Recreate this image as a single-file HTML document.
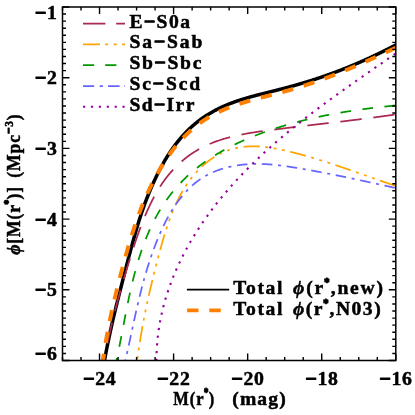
<!DOCTYPE html>
<html><head><meta charset="utf-8"><title>Luminosity function by morphological type</title>
<style>
html,body{margin:0;padding:0;background:#fff;}
svg{display:block;}
text{font-family:"Liberation Serif",serif;font-weight:bold;fill:#000;stroke:#000;stroke-width:0.5px;stroke-linejoin:round;}
.mn{stroke-width:1.3px;}
.it{font-style:italic;}
</style></head><body>
<svg width="415" height="415" viewBox="0 0 415 415">
<rect width="415" height="415" fill="#fff"/>
<defs><clipPath id="clip"><rect x="62.5" y="7" width="333.3" height="353.5"/></clipPath></defs>

<g clip-path="url(#clip)" fill="none" stroke-linecap="butt" stroke-linejoin="round">
<path d="M102.29,371.98 L102.72,369.73 L103.14,367.47 L103.57,365.22 L103.99,362.97 L104.42,360.72 L104.85,358.47 L105.28,356.22 L105.72,353.96 L106.16,351.70 L106.59,349.47 L107.02,347.27 L107.45,345.12 L107.88,343.01 L108.31,340.92 L108.74,338.87 L109.16,336.85 L109.59,334.85 L110.02,332.89 L110.44,330.94 L110.87,329.02 L111.29,327.13 L111.71,325.25 L112.13,323.39 L112.56,321.55 L112.98,319.73 L113.40,317.93 L113.82,316.14 L114.24,314.37 L114.66,312.61 L115.08,310.87 L115.50,309.14 L115.91,307.42 L116.33,305.71 L116.75,304.02 L117.17,302.33 L117.58,300.66 L118.00,298.99 L118.42,297.34 L118.83,295.69 L119.25,294.05 L119.67,292.41 L120.08,290.78 L120.50,289.15 L120.91,287.52 L121.33,285.90 L121.74,284.28 L122.15,282.66 L122.57,281.04 L122.98,279.42 L123.40,277.81 L123.81,276.20 L124.22,274.59 L124.64,272.99 L125.05,271.39 L125.46,269.79 L125.87,268.19 L126.29,266.60 L126.70,265.01 L127.11,263.43 L127.52,261.85 L127.93,260.28 L128.34,258.71 L128.75,257.14 L129.17,255.59 L129.58,254.03 L129.99,252.49 L130.40,250.95 L130.81,249.41 L131.22,247.89 L131.63,246.37 L132.04,244.86 L132.45,243.36 L132.86,241.87 L133.27,240.38 L133.68,238.91 L134.09,237.45 L134.50,236.00 L134.91,234.56 L135.32,233.14 L135.73,231.72 L136.14,230.32 L136.55,228.93 L136.96,227.55 L137.37,226.19 L137.78,224.84 L138.19,223.50 L138.60,222.17 L139.01,220.85 L139.42,219.55 L139.83,218.27 L140.24,216.99 L140.65,215.73 L141.06,214.49 L141.47,213.25 L141.88,212.03 L142.29,210.83 L142.70,209.64 L143.11,208.46 L143.53,207.29 L143.94,206.13 L144.35,204.99 L144.76,203.86 L145.17,202.75 L145.58,201.64 L145.99,200.55 L146.41,199.47 L146.82,198.40 L147.23,197.34 L147.64,196.29 L148.05,195.26 L148.46,194.23 L148.88,193.21 L149.29,192.21 L149.70,191.22 L150.11,190.23 L150.53,189.26 L150.94,188.30 L151.35,187.34 L151.76,186.40 L152.18,185.47 L152.59,184.54 L153.00,183.63 L153.42,182.72 L153.83,181.82 L154.24,180.93 L154.66,180.05 L155.07,179.18 L155.48,178.32 L155.90,177.46 L156.31,176.60 L156.73,175.72 L157.14,174.85 L157.56,174.00 L157.97,173.17 L158.38,172.35 L158.80,171.54 L159.21,170.73 L159.63,169.93 L160.04,169.14 L160.45,168.36 L160.87,167.59 L161.28,166.82 L161.70,166.06 L162.11,165.30 L162.53,164.55 L162.94,163.81 L163.36,163.08 L163.77,162.36 L164.19,161.64 L164.60,160.92 L165.02,160.22 L165.44,159.52 L165.85,158.83 L166.27,158.14 L166.68,157.46 L167.10,156.79 L167.51,156.12 L167.93,155.47 L168.35,154.81 L168.76,154.17 L169.18,153.52 L169.59,152.89 L170.01,152.26 L170.43,151.64 L170.84,151.02 L171.26,150.41 L171.68,149.81 L172.09,149.21 L172.51,148.61 L172.93,148.03 L173.34,147.44 L173.76,146.87 L174.18,146.30 L174.59,145.73 L175.01,145.17 L175.43,144.62 L175.84,144.07 L176.26,143.52 L176.68,142.99 L177.10,142.45 L177.51,141.92 L177.93,141.40 L178.35,140.88 L178.77,140.37 L179.18,139.86 L179.60,139.36 L180.02,138.86 L180.44,138.36 L180.86,137.88 L181.27,137.39 L181.69,136.91 L182.11,136.44 L182.53,135.97 L182.95,135.50 L183.36,135.04 L183.78,134.58 L184.20,134.13 L184.62,133.68 L185.04,133.24 L185.45,132.80 L185.87,132.36 L186.29,131.93 L186.71,131.50 L187.13,131.08 L187.55,130.66 L187.97,130.25 L188.38,129.84 L188.80,129.43 L189.22,129.03 L189.64,128.63 L190.06,128.23 L190.48,127.84 L190.90,127.46 L191.32,127.07 L191.74,126.69 L192.16,126.32 L192.57,125.94 L192.99,125.58 L193.41,125.21 L193.83,124.85 L194.25,124.49 L194.67,124.14 L195.09,123.78 L195.51,123.44 L195.93,123.09 L196.35,122.75 L196.77,122.41 L197.19,122.08 L197.61,121.75 L198.03,121.42 L198.45,121.09 L198.87,120.77 L199.29,120.45 L199.71,120.14 L200.13,119.83 L200.55,119.52 L200.97,119.21 L201.39,118.91 L201.81,118.60 L202.23,118.31 L202.65,118.01 L203.07,117.72 L203.49,117.43 L203.91,117.14 L204.33,116.86 L204.75,116.58 L205.17,116.30 L205.59,116.02 L206.01,115.75 L206.43,115.48 L206.85,115.21 L207.27,114.94 L207.69,114.68 L208.11,114.42 L208.53,114.16 L208.95,113.90 L209.37,113.65 L209.79,113.40 L210.21,113.15 L210.63,112.90 L211.05,112.66 L211.47,112.42 L211.90,112.18 L212.32,111.94 L212.74,111.70 L213.16,111.47 L213.58,111.24 L214.00,111.01 L214.42,110.78 L214.84,110.55 L215.26,110.33 L215.68,110.11 L216.10,109.89 L216.52,109.67 L216.94,109.46 L217.37,109.24 L217.79,109.03 L218.21,108.82 L218.63,108.61 L219.05,108.41 L219.47,108.20 L219.89,108.00 L220.31,107.80 L220.73,107.60 L221.15,107.41 L221.58,107.21 L222.00,107.02 L222.42,106.83 L222.84,106.64 L223.26,106.45 L223.68,106.26 L224.10,106.08 L224.52,105.89 L224.94,105.71 L225.37,105.53 L225.79,105.35 L226.21,105.17 L226.63,105.00 L227.05,104.82 L227.47,104.65 L227.89,104.48 L228.31,104.31 L228.74,104.14 L229.16,103.97 L229.58,103.80 L230.00,103.64 L230.42,103.48 L230.84,103.31 L231.26,103.15 L231.68,102.99 L232.11,102.84 L232.53,102.68 L232.95,102.52 L233.37,102.37 L233.79,102.22 L234.21,102.06 L234.63,101.91 L235.06,101.76 L235.48,101.61 L235.90,101.46 L236.32,101.32 L236.74,101.17 L237.16,101.03 L237.58,100.88 L238.01,100.74 L238.43,100.60 L238.85,100.46 L239.27,100.32 L239.69,100.18 L240.11,100.04 L240.53,99.91 L240.96,99.77 L241.38,99.64 L241.80,99.50 L242.22,99.37 L242.64,99.24 L243.06,99.11 L243.48,98.98 L243.91,98.85 L244.33,98.72 L244.75,98.59 L245.17,98.47 L245.59,98.34 L246.01,98.21 L246.43,98.09 L246.86,97.96 L247.28,97.84 L247.70,97.72 L248.12,97.60 L248.54,97.48 L248.96,97.36 L249.39,97.24 L249.81,97.12 L250.23,97.00 L250.65,96.88 L251.07,96.76 L251.49,96.65 L251.91,96.53 L252.34,96.41 L252.76,96.30 L253.18,96.18 L253.60,96.07 L254.02,95.96 L254.44,95.84 L254.86,95.73 L255.29,95.62 L255.71,95.50 L256.13,95.39 L256.55,95.28 L256.97,95.17 L257.39,95.06 L257.82,94.95 L258.24,94.84 L258.66,94.73 L259.08,94.62 L259.50,94.51 L259.92,94.41 L260.34,94.30 L260.77,94.19 L261.19,94.08 L261.61,93.97 L262.03,93.87 L262.45,93.76 L262.87,93.65 L263.29,93.55 L263.72,93.44 L264.14,93.33 L264.56,93.23 L264.98,93.12 L265.40,93.02 L265.82,92.91 L266.25,92.81 L266.67,92.70 L267.09,92.59 L267.51,92.49 L267.93,92.38 L268.35,92.28 L268.77,92.17 L269.20,92.07 L269.62,91.96 L270.04,91.86 L270.46,91.75 L270.88,91.65 L271.30,91.54 L271.72,91.44 L272.15,91.33 L272.57,91.23 L272.99,91.12 L273.41,91.01 L273.83,90.91 L274.25,90.80 L274.68,90.70 L275.10,90.59 L275.52,90.49 L275.94,90.38 L276.36,90.27 L276.78,90.17 L277.20,90.06 L277.63,89.95 L278.05,89.85 L278.47,89.74 L278.89,89.63 L279.31,89.52 L279.73,89.41 L280.15,89.31 L280.58,89.20 L281.00,89.09 L281.42,88.98 L281.84,88.87 L282.26,88.76 L282.68,88.65 L283.11,88.54 L283.53,88.43 L283.95,88.32 L284.37,88.21 L284.79,88.10 L285.21,87.99 L285.63,87.88 L286.06,87.77 L286.48,87.66 L286.90,87.55 L287.32,87.43 L287.74,87.32 L288.16,87.21 L288.59,87.09 L289.01,86.98 L289.43,86.87 L289.85,86.75 L290.27,86.64 L290.69,86.52 L291.11,86.41 L291.54,86.29 L291.96,86.18 L292.38,86.06 L292.80,85.94 L293.22,85.83 L293.64,85.71 L294.07,85.59 L294.49,85.47 L294.91,85.35 L295.33,85.23 L295.75,85.12 L296.17,85.00 L296.60,84.88 L297.02,84.76 L297.44,84.64 L297.86,84.51 L298.28,84.39 L298.70,84.27 L299.13,84.15 L299.55,84.03 L299.97,83.90 L300.39,83.78 L300.81,83.66 L301.23,83.53 L301.66,83.41 L302.08,83.28 L302.50,83.16 L302.92,83.03 L303.34,82.91 L303.77,82.78 L304.19,82.65 L304.61,82.53 L305.03,82.40 L305.45,82.27 L305.87,82.14 L306.30,82.01 L306.72,81.88 L307.14,81.76 L307.56,81.63 L307.98,81.49 L308.41,81.36 L308.83,81.23 L309.25,81.10 L309.67,80.97 L310.09,80.84 L310.51,80.70 L310.94,80.57 L311.36,80.44 L311.78,80.30 L312.20,80.17 L312.62,80.03 L313.05,79.90 L313.47,79.76 L313.89,79.63 L314.31,79.49 L314.73,79.35 L315.16,79.22 L315.58,79.08 L316.00,78.94 L316.42,78.80 L316.84,78.66 L317.27,78.52 L317.69,78.38 L318.11,78.24 L318.53,78.10 L318.95,77.96 L319.38,77.82 L319.80,77.68 L320.22,77.54 L320.64,77.39 L321.06,77.25 L321.49,77.11 L321.91,76.96 L322.33,76.82 L322.75,76.67 L323.17,76.53 L323.60,76.38 L324.02,76.24 L324.44,76.09 L324.86,75.94 L325.29,75.80 L325.71,75.65 L326.13,75.50 L326.55,75.35 L326.97,75.20 L327.40,75.05 L327.82,74.90 L328.24,74.75 L328.66,74.60 L329.09,74.45 L329.51,74.30 L329.93,74.14 L330.35,73.99 L330.77,73.84 L331.20,73.68 L331.62,73.53 L332.04,73.38 L332.46,73.22 L332.89,73.07 L333.31,72.91 L333.73,72.75 L334.15,72.60 L334.58,72.44 L335.00,72.28 L335.42,72.12 L335.84,71.97 L336.27,71.81 L336.69,71.65 L337.11,71.49 L337.53,71.33 L337.95,71.17 L338.38,71.01 L338.80,70.84 L339.22,70.68 L339.64,70.52 L340.07,70.36 L340.49,70.19 L340.91,70.03 L341.33,69.86 L341.76,69.70 L342.18,69.53 L342.60,69.37 L343.02,69.20 L343.45,69.04 L343.87,68.87 L344.29,68.70 L344.72,68.53 L345.14,68.37 L345.56,68.20 L345.98,68.03 L346.41,67.86 L346.83,67.69 L347.25,67.52 L347.67,67.35 L348.10,67.17 L348.52,67.00 L348.94,66.83 L349.36,66.66 L349.79,66.48 L350.21,66.31 L350.63,66.14 L351.06,65.96 L351.48,65.79 L351.90,65.61 L352.32,65.43 L352.75,65.26 L353.17,65.08 L353.59,64.90 L354.02,64.73 L354.44,64.55 L354.86,64.37 L355.28,64.19 L355.71,64.01 L356.13,63.83 L356.55,63.65 L356.98,63.47 L357.40,63.29 L357.82,63.10 L358.24,62.92 L358.67,62.74 L359.09,62.56 L359.51,62.37 L359.94,62.19 L360.36,62.00 L360.78,61.82 L361.21,61.63 L361.63,61.45 L362.05,61.26 L362.47,61.07 L362.90,60.89 L363.32,60.70 L363.74,60.51 L364.17,60.32 L364.59,60.13 L365.01,59.94 L365.44,59.75 L365.86,59.56 L366.28,59.37 L366.71,59.18 L367.13,58.99 L367.55,58.79 L367.98,58.60 L368.40,58.41 L368.82,58.21 L369.24,58.02 L369.67,57.83 L370.09,57.63 L370.51,57.43 L370.94,57.24 L371.36,57.04 L371.78,56.85 L372.21,56.65 L372.63,56.45 L373.05,56.25 L373.48,56.05 L373.90,55.85 L374.32,55.65 L374.75,55.45 L375.17,55.25 L375.59,55.05 L376.02,54.85 L376.44,54.65 L376.87,54.45 L377.29,54.24 L377.71,54.04 L378.14,53.84 L378.56,53.63 L378.98,53.43 L379.41,53.22 L379.83,53.02 L380.25,52.81 L380.68,52.60 L381.10,52.40 L381.52,52.19 L381.95,51.98 L382.37,51.77 L382.79,51.56 L383.22,51.35 L383.64,51.14 L384.07,50.93 L384.49,50.72 L384.91,50.51 L385.34,50.30 L385.76,50.09 L386.18,49.88 L386.61,49.66 L387.03,49.45 L387.46,49.23 L387.88,49.02 L388.30,48.81 L388.73,48.59 L389.15,48.37 L389.57,48.16 L390.00,47.94 L390.42,47.72 L390.85,47.51 L391.27,47.29 L391.69,47.07 L392.12,46.85 L392.54,46.63 L392.96,46.41 L393.39,46.19 L393.81,45.97 L394.24,45.75 L394.66,45.53 L395.08,45.30 L395.51,45.08 L395.93,44.86 L396.36,44.63 L396.79,44.40 L397.21,44.18 L397.63,43.95 L398.05,43.72 L398.48,43.49 L398.90,43.27 L399.32,43.04 L399.74,42.81 L400.17,42.58 L400.59,42.35 L401.01,42.12 L401.43,41.89 L401.86,41.65 L402.28,41.42 L402.70,41.19 L403.13,40.96 L403.55,40.72 L403.97,40.49" stroke="#000" stroke-width="3.5"/>
<path d="M102.79,368.06 L104.58,358.22 L104.71,357.50 L104.85,356.78 L104.98,356.05 L105.11,355.33 L105.25,354.61 L105.38,353.89 L105.52,353.17 L105.65,352.45 L105.79,351.72 L105.93,351.00 L106.07,350.29 L106.21,349.57 L106.35,348.85 L106.49,348.13 L106.63,347.41 L106.78,346.69 L106.92,345.97 L107.07,345.26 L107.21,344.54 L107.36,343.82 L107.51,343.11 L107.65,342.39 L107.80,341.68 L107.95,340.96 L108.10,340.25 L108.26,339.53 L108.41,338.82 L108.56,338.10 L108.71,337.39 L108.87,336.68 L109.03,335.96 L109.18,335.25 L109.34,334.54 L109.50,333.83 L109.65,333.11 L109.81,332.40 L109.97,331.69 L110.13,330.98 L110.30,330.27 L110.46,329.56 L110.62,328.85 L110.79,328.14 L110.95,327.43 L111.12,326.72 L111.28,326.01 L111.45,325.30 L111.62,324.59 L111.78,323.89 L111.95,323.18 L112.12,322.47 L112.29,321.76 L112.46,321.06 L112.63,320.35 L112.81,319.64 L112.98,318.94 L113.15,318.23 L113.33,317.52 L113.50,316.82 L113.68,316.11 L113.85,315.41 L114.03,314.70 L114.21,314.00 L114.39,313.29 L114.57,312.59 L114.75,311.88 L114.93,311.18 L115.11,310.48 L115.29,309.77 L115.47,309.07 L115.65,308.37 L115.84,307.66 L116.02,306.96 L116.20,306.26 L116.39,305.56 L116.57,304.85 L116.76,304.15 L116.95,303.45 L117.13,302.75 L117.32,302.05 L117.51,301.34 L117.70,300.64 L117.89,299.94 L118.08,299.24 L118.27,298.54 L118.46,297.84 L118.66,297.14 L118.85,296.44 L119.04,295.74 L119.23,295.04 L119.43,294.34 L119.62,293.64 L119.82,292.94 L120.01,292.24 L120.21,291.54 L120.41,290.84 L120.60,290.14 L120.80,289.45 L121.00,288.75 L121.20,288.05 L121.40,287.35 L121.60,286.65 L121.80,285.95 L122.00,285.26 L122.20,284.56 L122.40,283.86 L122.60,283.16 L122.81,282.46 L123.01,281.77 L123.21,281.07 L123.42,280.37 L123.62,279.67 L123.83,278.98 L124.03,278.28 L124.24,277.58 L124.44,276.88 L124.65,276.19 L124.86,275.49 L125.07,274.79 L125.27,274.10 L125.48,273.40 L125.69,272.70 L125.90,272.01 L126.11,271.31 L126.32,270.61 L126.53,269.92 L126.74,269.22 L126.95,268.52 L127.16,267.83 L127.38,267.13 L127.59,266.44 L127.80,265.74 L128.01,265.04 L128.23,264.35 L128.44,263.65 L128.65,262.96 L128.87,262.26 L129.08,261.56 L129.30,260.87 L129.51,260.17 L129.73,259.47 L129.95,258.78 L130.16,258.08 L130.38,257.39 L130.60,256.69 L130.82,255.99 L131.03,255.30 L131.25,254.60 L131.47,253.91 L131.69,253.21 L131.91,252.52 L132.13,251.82 L132.35,251.13 L132.58,250.43 L132.80,249.74 L133.02,249.04 L133.25,248.35 L133.47,247.65 L133.70,246.96 L133.93,246.26 L134.15,245.57 L134.38,244.88 L134.61,244.18 L134.84,243.49 L135.07,242.80 L135.30,242.10 L135.53,241.41 L135.77,240.72 L136.00,240.03 L136.24,239.34 L136.47,238.65 L136.71,237.95 L136.95,237.26 L137.19,236.57 L137.43,235.88 L137.67,235.19 L137.92,234.50 L138.16,233.82 L138.41,233.13 L138.65,232.44 L138.90,231.75 L139.15,231.06 L139.40,230.38 L139.65,229.69 L139.90,229.01 L140.16,228.32 L140.41,227.64 L140.67,226.95 L140.93,226.27 L141.19,225.58 L141.45,224.90 L141.72,224.22 L141.98,223.54 L142.25,222.85 L142.51,222.17 L142.78,221.49 L143.05,220.81 L143.33,220.13 L143.60,219.46 L143.88,218.78 L144.15,218.10 L144.43,217.42 L144.71,216.75 L145.00,216.07 L145.28,215.40 L145.57,214.72 L145.86,214.05 L146.15,213.38 L146.44,212.70 L146.73,212.03 L147.03,211.36 L147.33,210.69 L147.63,210.02 L147.93,209.35 L148.23,208.69 L148.54,208.02 L148.85,207.35 L149.16,206.69 L149.47,206.02 L149.78,205.36 L150.10,204.70 L150.42,204.04 L150.74,203.38 L151.06,202.72 L151.39,202.06 L151.72,201.40 L152.05,200.75 L152.38,200.09 L152.72,199.44 L153.05,198.79 L153.40,198.14 L153.74,197.49 L154.08,196.85 L154.43,196.20 L154.78,195.56 L155.14,194.92 L155.49,194.28 L155.85,193.64 L156.22,193.00 L156.58,192.37 L156.95,191.73 L157.32,191.10 L157.69,190.47 L158.07,189.85 L158.45,189.22 L158.83,188.60 L159.22,187.98 L159.60,187.36 L160.00,186.74 L160.39,186.13 L160.79,185.52 L161.19,184.91 L161.59,184.30 L162.00,183.70 L162.41,183.10 L162.83,182.50 L163.25,181.90 L163.67,181.31 L164.09,180.72 L164.52,180.13 L164.95,179.54 L165.39,178.96 L165.82,178.38 L166.27,177.80 L166.71,177.23 L167.16,176.66 L167.61,176.09 L168.07,175.52 L168.53,174.96 L168.99,174.40 L169.46,173.84 L169.93,173.29 L170.40,172.74 L170.87,172.19 L171.35,171.65 L171.84,171.11 L172.32,170.57 L172.81,170.04 L173.30,169.50 L173.80,168.98 L174.30,168.45 L174.80,167.93 L175.31,167.41 L175.81,166.90 L176.33,166.39 L176.84,165.88 L177.36,165.38 L177.88,164.88 L178.40,164.38 L178.93,163.89 L179.46,163.40 L179.99,162.91 L180.53,162.43 L181.07,161.95 L181.61,161.47 L182.15,161.00 L182.70,160.53 L183.25,160.07 L183.81,159.61 L184.36,159.15 L184.92,158.70 L185.49,158.25 L186.05,157.81 L186.62,157.37 L187.19,156.93 L187.76,156.50 L188.34,156.07 L188.92,155.65 L189.50,155.23 L190.08,154.81 L190.67,154.40 L191.26,153.99 L191.85,153.59 L192.45,153.19 L193.05,152.79 L193.65,152.40 L194.25,152.01 L194.86,151.63 L195.46,151.25 L196.08,150.88 L196.69,150.51 L197.30,150.15 L197.92,149.79 L198.54,149.43 L199.17,149.08 L199.79,148.73 L200.42,148.39 L201.05,148.05 L201.68,147.72 L202.32,147.39 L202.96,147.07 L203.60,146.75 L204.24,146.43 L204.88,146.12 L205.53,145.81 L206.18,145.51 L206.83,145.21 L207.48,144.91 L208.14,144.62 L208.79,144.33 L209.45,144.05 L210.11,143.77 L210.78,143.50 L211.44,143.22 L212.11,142.96 L212.78,142.69 L213.45,142.43 L214.12,142.17 L214.80,141.92 L215.47,141.67 L216.15,141.42 L216.83,141.18 L217.51,140.94 L218.19,140.71 L218.88,140.47 L219.57,140.24 L220.25,140.02 L220.94,139.79 L221.64,139.57 L222.33,139.36 L223.02,139.15 L223.72,138.94 L224.42,138.73 L225.11,138.52 L225.81,138.32 L226.52,138.12 L227.22,137.93 L227.92,137.74 L228.63,137.55 L229.33,137.36 L230.04,137.18 L230.75,136.99 L231.46,136.82 L232.17,136.64 L232.89,136.47 L233.60,136.29 L234.31,136.13 L235.03,135.96 L235.75,135.80 L236.46,135.64 L237.18,135.48 L237.90,135.32 L238.62,135.17 L239.34,135.01 L240.07,134.86 L240.79,134.72 L241.51,134.57 L242.24,134.43 L242.96,134.28 L243.69,134.14 L244.42,134.01 L245.15,133.87 L245.87,133.74 L246.60,133.60 L247.33,133.47 L248.06,133.35 L248.79,133.22 L249.52,133.09 L250.26,132.97 L250.99,132.85 L251.72,132.73 L252.45,132.61 L253.19,132.49 L253.92,132.37 L254.65,132.26 L255.39,132.15 L256.12,132.03 L256.86,131.92 L257.59,131.81 L258.33,131.70 L259.06,131.60 L259.80,131.49 L260.53,131.39 L261.27,131.28 L262.01,131.18 L262.74,131.08 L263.48,130.97 L264.21,130.87 L264.95,130.77 L265.68,130.68 L266.42,130.58 L267.16,130.48 L267.89,130.38 L268.63,130.29 L269.36,130.19 L270.10,130.10 L270.83,130.00 L271.56,129.91 L272.30,129.81 L273.03,129.72 L273.76,129.63 L274.50,129.54 L275.23,129.44 L275.96,129.35 L276.69,129.26 L277.42,129.17 L278.15,129.08 L278.88,128.99 L279.61,128.90 L280.34,128.81 L281.07,128.72 L281.80,128.63 L282.53,128.54 L283.26,128.45 L283.98,128.36 L284.71,128.27 L285.44,128.18 L286.17,128.09 L286.89,128.00 L287.62,127.91 L288.34,127.82 L289.07,127.74 L289.79,127.65 L290.52,127.56 L291.24,127.47 L291.97,127.39 L292.69,127.30 L293.41,127.21 L294.14,127.13 L294.86,127.04 L295.58,126.95 L296.30,126.87 L297.03,126.78 L297.75,126.69 L298.47,126.61 L299.19,126.52 L299.91,126.44 L300.63,126.35 L301.35,126.27 L302.07,126.18 L302.79,126.10 L303.51,126.01 L304.23,125.92 L304.95,125.84 L305.67,125.76 L306.39,125.67 L307.11,125.59 L307.83,125.50 L308.55,125.42 L309.27,125.33 L309.99,125.25 L310.70,125.16 L311.42,125.08 L312.14,124.99 L312.86,124.91 L313.57,124.83 L314.29,124.74 L315.01,124.66 L315.73,124.57 L316.44,124.49 L317.16,124.41 L317.88,124.32 L318.60,124.24 L319.31,124.15 L320.03,124.07 L320.75,123.99 L321.46,123.90 L322.18,123.82 L322.90,123.73 L323.61,123.65 L324.33,123.57 L325.04,123.48 L325.76,123.40 L326.48,123.31 L327.19,123.23 L327.91,123.15 L328.63,123.06 L329.34,122.98 L330.06,122.89 L330.77,122.81 L331.49,122.72 L332.21,122.64 L332.92,122.55 L333.64,122.47 L334.36,122.38 L335.07,122.30 L335.79,122.21 L336.50,122.13 L337.22,122.04 L337.94,121.96 L338.65,121.87 L339.37,121.79 L340.09,121.70 L340.80,121.62 L341.52,121.53 L342.24,121.45 L342.96,121.36 L343.67,121.27 L344.39,121.19 L345.11,121.10 L345.83,121.01 L346.54,120.93 L347.26,120.84 L347.98,120.75 L348.70,120.66 L349.42,120.58 L350.13,120.49 L350.85,120.40 L351.57,120.31 L352.29,120.23 L353.01,120.14 L353.73,120.05 L354.45,119.96 L355.17,119.87 L355.89,119.78 L356.61,119.69 L357.33,119.60 L358.05,119.51 L358.77,119.42 L359.49,119.33 L360.21,119.24 L360.93,119.15 L361.65,119.06 L362.38,118.97 L363.10,118.88 L363.82,118.78 L364.54,118.69 L365.27,118.60 L365.99,118.51 L366.71,118.41 L367.44,118.32 L368.16,118.23 L368.89,118.13 L369.61,118.04 L370.33,117.95 L371.06,117.85 L371.79,117.76 L372.51,117.66 L373.24,117.57 L373.96,117.47 L374.69,117.37 L375.42,117.28 L376.15,117.18 L376.87,117.08 L377.60,116.99 L378.33,116.89 L379.06,116.79 L379.79,116.69 L380.52,116.59 L381.25,116.49 L381.98,116.39 L382.71,116.29 L383.44,116.19 L384.18,116.09 L384.91,115.99 L385.64,115.89 L386.37,115.79 L387.11,115.69 L387.84,115.58 L388.58,115.48 L389.31,115.38 L390.05,115.27 L390.78,115.17 L391.52,115.06 L392.26,114.96 L392.99,114.85 L393.73,114.75 L394.47,114.64 L395.21,114.53 L395.95,114.43 L405.85,113.00" stroke="#AA2A50" stroke-width="1.75" stroke-dasharray="21.5 11.73" stroke-dashoffset="8.25"/>
<path d="M136.27,367.23 L137.62,357.33 L137.72,356.62 L137.82,355.91 L137.91,355.21 L138.01,354.50 L138.11,353.80 L138.21,353.10 L138.30,352.39 L138.40,351.69 L138.50,350.99 L138.61,350.30 L138.71,349.60 L138.81,348.90 L138.91,348.21 L139.02,347.51 L139.12,346.82 L139.22,346.13 L139.33,345.43 L139.43,344.74 L139.54,344.05 L139.65,343.36 L139.76,342.68 L139.86,341.99 L139.97,341.30 L140.08,340.62 L140.19,339.93 L140.30,339.25 L140.41,338.56 L140.52,337.88 L140.64,337.20 L140.75,336.52 L140.86,335.84 L140.98,335.16 L141.09,334.48 L141.21,333.80 L141.32,333.12 L141.44,332.45 L141.55,331.77 L141.67,331.10 L141.79,330.42 L141.91,329.75 L142.03,329.07 L142.15,328.40 L142.27,327.73 L142.39,327.06 L142.51,326.39 L142.63,325.72 L142.75,325.05 L142.88,324.38 L143.00,323.71 L143.13,323.04 L143.25,322.37 L143.38,321.71 L143.50,321.04 L143.63,320.37 L143.75,319.71 L143.88,319.04 L144.01,318.38 L144.14,317.72 L144.27,317.05 L144.40,316.39 L144.53,315.73 L144.66,315.07 L144.79,314.40 L144.92,313.74 L145.06,313.08 L145.19,312.42 L145.32,311.76 L145.46,311.10 L145.59,310.44 L145.73,309.78 L145.86,309.12 L146.00,308.47 L146.14,307.81 L146.27,307.15 L146.41,306.49 L146.55,305.84 L146.69,305.18 L146.83,304.52 L146.97,303.87 L147.11,303.21 L147.25,302.55 L147.39,301.90 L147.53,301.24 L147.68,300.59 L147.82,299.93 L147.96,299.28 L148.11,298.62 L148.25,297.97 L148.40,297.31 L148.55,296.66 L148.69,296.00 L148.84,295.35 L148.99,294.70 L149.13,294.04 L149.28,293.39 L149.43,292.73 L149.58,292.08 L149.73,291.43 L149.88,290.77 L150.03,290.12 L150.18,289.47 L150.34,288.81 L150.49,288.16 L150.64,287.51 L150.80,286.85 L150.95,286.20 L151.11,285.55 L151.26,284.89 L151.42,284.24 L151.57,283.58 L151.73,282.93 L151.89,282.28 L152.04,281.62 L152.20,280.97 L152.36,280.31 L152.52,279.66 L152.68,279.00 L152.84,278.35 L153.00,277.69 L153.16,277.04 L153.32,276.38 L153.49,275.73 L153.65,275.07 L153.81,274.42 L153.98,273.76 L154.14,273.10 L154.30,272.45 L154.47,271.79 L154.63,271.13 L154.80,270.48 L154.97,269.82 L155.13,269.16 L155.30,268.50 L155.47,267.84 L155.64,267.18 L155.81,266.52 L155.98,265.86 L156.15,265.20 L156.32,264.54 L156.49,263.88 L156.66,263.22 L156.83,262.56 L157.00,261.90 L157.18,261.24 L157.35,260.57 L157.52,259.91 L157.70,259.24 L157.87,258.58 L158.05,257.92 L158.22,257.25 L158.40,256.58 L158.57,255.92 L158.75,255.25 L158.93,254.58 L159.11,253.92 L159.29,253.25 L159.46,252.58 L159.64,251.91 L159.82,251.24 L160.01,250.57 L160.19,249.90 L160.37,249.23 L160.55,248.56 L160.74,247.89 L160.92,247.22 L161.11,246.55 L161.29,245.88 L161.48,245.21 L161.67,244.54 L161.86,243.87 L162.05,243.20 L162.24,242.53 L162.43,241.86 L162.62,241.19 L162.82,240.52 L163.01,239.85 L163.21,239.18 L163.40,238.51 L163.60,237.84 L163.80,237.17 L164.00,236.50 L164.20,235.83 L164.41,235.16 L164.61,234.49 L164.81,233.82 L165.02,233.16 L165.23,232.49 L165.44,231.82 L165.65,231.16 L165.86,230.49 L166.07,229.82 L166.29,229.16 L166.50,228.50 L166.72,227.83 L166.94,227.17 L167.16,226.51 L167.38,225.84 L167.60,225.18 L167.83,224.52 L168.05,223.86 L168.28,223.20 L168.51,222.55 L168.74,221.89 L168.97,221.23 L169.21,220.58 L169.44,219.92 L169.68,219.27 L169.92,218.62 L170.16,217.96 L170.40,217.31 L170.65,216.66 L170.89,216.02 L171.14,215.37 L171.39,214.72 L171.65,214.08 L171.90,213.43 L172.16,212.79 L172.41,212.15 L172.67,211.51 L172.94,210.87 L173.20,210.23 L173.47,209.59 L173.73,208.96 L174.00,208.32 L174.28,207.69 L174.55,207.06 L174.83,206.43 L175.11,205.80 L175.39,205.17 L175.67,204.55 L175.96,203.92 L176.25,203.30 L176.54,202.68 L176.83,202.06 L177.12,201.44 L177.42,200.83 L177.72,200.21 L178.02,199.60 L178.33,198.99 L178.63,198.38 L178.94,197.78 L179.26,197.17 L179.57,196.57 L179.89,195.96 L180.21,195.36 L180.53,194.77 L180.85,194.17 L181.18,193.58 L181.51,192.99 L181.84,192.40 L182.18,191.81 L182.52,191.22 L182.86,190.64 L183.20,190.06 L183.55,189.48 L183.90,188.90 L184.25,188.32 L184.61,187.75 L184.97,187.18 L185.33,186.61 L185.69,186.05 L186.06,185.48 L186.43,184.92 L186.80,184.36 L187.18,183.81 L187.56,183.25 L187.94,182.70 L188.32,182.15 L188.71,181.60 L189.10,181.06 L189.50,180.52 L189.89,179.98 L190.30,179.44 L190.70,178.91 L191.11,178.38 L191.52,177.85 L191.93,177.32 L192.35,176.80 L192.77,176.28 L193.19,175.76 L193.62,175.25 L194.05,174.74 L194.49,174.23 L194.92,173.72 L195.37,173.22 L195.81,172.72 L196.26,172.22 L196.71,171.73 L197.17,171.23 L197.62,170.75 L198.09,170.26 L198.55,169.78 L199.02,169.30 L199.50,168.82 L199.97,168.35 L200.46,167.88 L200.94,167.42 L201.43,166.95 L201.92,166.49 L202.42,166.04 L202.92,165.58 L203.42,165.13 L203.93,164.69 L204.44,164.24 L204.95,163.81 L205.47,163.37 L205.99,162.94 L206.52,162.51 L207.05,162.09 L207.58,161.67 L208.12,161.26 L208.66,160.85 L209.20,160.44 L209.75,160.04 L210.30,159.64 L210.85,159.25 L211.41,158.86 L211.97,158.48 L212.53,158.10 L213.10,157.73 L213.67,157.37 L214.24,157.00 L214.81,156.65 L215.39,156.30 L215.98,155.95 L216.56,155.61 L217.15,155.28 L217.74,154.95 L218.34,154.62 L218.93,154.31 L219.53,153.99 L220.14,153.69 L220.74,153.39 L221.35,153.10 L221.96,152.81 L222.58,152.53 L223.20,152.26 L223.82,151.99 L224.44,151.73 L225.06,151.47 L225.69,151.22 L226.32,150.98 L226.95,150.74 L227.59,150.51 L228.22,150.29 L228.86,150.07 L229.50,149.86 L230.15,149.65 L230.79,149.45 L231.44,149.26 L232.08,149.07 L232.73,148.89 L233.39,148.72 L234.04,148.55 L234.70,148.39 L235.35,148.23 L236.01,148.08 L236.67,147.94 L237.33,147.80 L237.99,147.67 L238.66,147.54 L239.32,147.42 L239.99,147.31 L240.65,147.20 L241.32,147.10 L241.99,147.01 L242.66,146.92 L243.33,146.83 L244.00,146.76 L244.67,146.69 L245.35,146.62 L246.02,146.56 L246.69,146.51 L247.37,146.46 L248.04,146.42 L248.72,146.39 L249.40,146.35 L250.07,146.33 L250.75,146.31 L251.43,146.30 L252.11,146.29 L252.79,146.28 L253.47,146.28 L254.15,146.29 L254.83,146.30 L255.51,146.32 L256.19,146.34 L256.87,146.36 L257.55,146.39 L258.23,146.43 L258.92,146.46 L259.60,146.51 L260.28,146.55 L260.96,146.61 L261.65,146.66 L262.33,146.72 L263.02,146.79 L263.70,146.85 L264.38,146.93 L265.07,147.00 L265.75,147.08 L266.44,147.16 L267.12,147.25 L267.81,147.34 L268.49,147.43 L269.17,147.53 L269.86,147.63 L270.54,147.73 L271.23,147.84 L271.91,147.95 L272.59,148.06 L273.28,148.18 L273.96,148.30 L274.65,148.42 L275.33,148.54 L276.01,148.67 L276.69,148.80 L277.38,148.93 L278.06,149.06 L278.74,149.20 L279.42,149.34 L280.10,149.48 L280.78,149.62 L281.46,149.76 L282.14,149.91 L282.82,150.06 L283.50,150.21 L284.18,150.36 L284.86,150.51 L285.54,150.67 L286.21,150.82 L286.89,150.98 L287.57,151.14 L288.24,151.30 L288.91,151.46 L289.59,151.63 L290.26,151.79 L290.93,151.96 L291.61,152.12 L292.28,152.29 L292.95,152.46 L293.62,152.63 L294.29,152.80 L294.95,152.97 L295.62,153.14 L296.29,153.31 L296.96,153.48 L297.62,153.66 L298.29,153.83 L298.95,154.01 L299.62,154.19 L300.28,154.37 L300.94,154.54 L301.61,154.72 L302.27,154.91 L302.93,155.09 L303.59,155.27 L304.25,155.45 L304.91,155.64 L305.57,155.82 L306.23,156.01 L306.88,156.19 L307.54,156.38 L308.20,156.57 L308.86,156.76 L309.51,156.95 L310.17,157.14 L310.82,157.33 L311.48,157.52 L312.13,157.71 L312.79,157.91 L313.44,158.10 L314.09,158.30 L314.74,158.49 L315.40,158.69 L316.05,158.89 L316.70,159.08 L317.35,159.28 L318.00,159.48 L318.65,159.68 L319.30,159.88 L319.95,160.08 L320.60,160.28 L321.25,160.49 L321.90,160.69 L322.54,160.89 L323.19,161.10 L323.84,161.30 L324.49,161.51 L325.13,161.71 L325.78,161.92 L326.43,162.13 L327.07,162.33 L327.72,162.54 L328.36,162.75 L329.01,162.96 L329.65,163.17 L330.30,163.38 L330.94,163.59 L331.59,163.80 L332.23,164.01 L332.87,164.23 L333.52,164.44 L334.16,164.65 L334.80,164.87 L335.45,165.08 L336.09,165.29 L336.73,165.51 L337.37,165.72 L338.02,165.94 L338.66,166.16 L339.30,166.37 L339.94,166.59 L340.58,166.81 L341.23,167.02 L341.87,167.24 L342.51,167.46 L343.15,167.68 L343.79,167.90 L344.43,168.12 L345.07,168.34 L345.72,168.56 L346.36,168.78 L347.00,169.00 L347.64,169.22 L348.28,169.44 L348.92,169.67 L349.56,169.89 L350.20,170.11 L350.84,170.33 L351.48,170.55 L352.12,170.78 L352.76,171.00 L353.41,171.22 L354.05,171.45 L354.69,171.67 L355.33,171.90 L355.97,172.12 L356.61,172.34 L357.25,172.57 L357.89,172.79 L358.53,173.02 L359.18,173.24 L359.82,173.47 L360.46,173.69 L361.10,173.92 L361.74,174.15 L362.38,174.37 L363.03,174.60 L363.67,174.82 L364.31,175.05 L364.95,175.28 L365.60,175.50 L366.24,175.73 L366.88,175.95 L367.53,176.18 L368.17,176.41 L368.81,176.63 L369.46,176.86 L370.10,177.09 L370.75,177.31 L371.39,177.54 L372.04,177.77 L372.68,177.99 L373.33,178.22 L373.97,178.45 L374.62,178.67 L375.26,178.90 L375.91,179.13 L376.56,179.35 L377.20,179.58 L377.85,179.80 L378.50,180.03 L379.15,180.26 L379.80,180.48 L380.45,180.71 L381.09,180.93 L381.74,181.16 L382.39,181.38 L383.04,181.61 L383.69,181.83 L384.35,182.06 L385.00,182.28 L385.65,182.51 L386.30,182.73 L386.95,182.96 L387.61,183.18 L388.26,183.40 L388.91,183.63 L389.57,183.85 L390.22,184.07 L390.88,184.30 L391.53,184.52 L392.19,184.74 L392.85,184.96 L393.50,185.18 L394.16,185.41 L394.82,185.63 L395.48,185.85 L404.95,189.04" stroke="#FFA500" stroke-width="1.75" stroke-dasharray="16.1 5.59 2.9 5.59 2.9 5.59 2.9 5.59" stroke-dashoffset="21.71"/>
<path d="M115.09,367.11 L117.14,357.32 L117.28,356.65 L117.42,355.98 L117.57,355.30 L117.71,354.63 L117.85,353.95 L117.99,353.28 L118.12,352.60 L118.26,351.93 L118.40,351.25 L118.54,350.57 L118.68,349.90 L118.81,349.22 L118.95,348.54 L119.08,347.86 L119.22,347.18 L119.36,346.50 L119.49,345.82 L119.63,345.14 L119.76,344.45 L119.89,343.77 L120.03,343.09 L120.16,342.41 L120.29,341.72 L120.43,341.04 L120.56,340.35 L120.69,339.67 L120.83,338.98 L120.96,338.30 L121.09,337.61 L121.22,336.93 L121.35,336.24 L121.48,335.55 L121.62,334.87 L121.75,334.18 L121.88,333.49 L122.01,332.80 L122.14,332.11 L122.27,331.42 L122.40,330.73 L122.54,330.04 L122.67,329.35 L122.80,328.66 L122.93,327.97 L123.06,327.28 L123.19,326.59 L123.32,325.90 L123.46,325.21 L123.59,324.52 L123.72,323.83 L123.85,323.13 L123.98,322.44 L124.12,321.75 L124.25,321.06 L124.38,320.36 L124.52,319.67 L124.65,318.98 L124.78,318.28 L124.92,317.59 L125.05,316.90 L125.18,316.20 L125.32,315.51 L125.45,314.82 L125.59,314.12 L125.72,313.43 L125.86,312.73 L126.00,312.04 L126.13,311.34 L126.27,310.65 L126.41,309.96 L126.55,309.26 L126.68,308.57 L126.82,307.87 L126.96,307.18 L127.10,306.48 L127.24,305.79 L127.38,305.09 L127.53,304.40 L127.67,303.70 L127.81,303.01 L127.95,302.31 L128.10,301.62 L128.24,300.93 L128.39,300.23 L128.53,299.54 L128.68,298.84 L128.82,298.15 L128.97,297.45 L129.12,296.76 L129.27,296.07 L129.42,295.37 L129.57,294.68 L129.72,293.99 L129.87,293.29 L130.03,292.60 L130.18,291.91 L130.33,291.21 L130.49,290.52 L130.64,289.83 L130.80,289.13 L130.96,288.44 L131.12,287.75 L131.28,287.06 L131.44,286.37 L131.60,285.68 L131.76,284.98 L131.92,284.29 L132.09,283.60 L132.25,282.91 L132.42,282.22 L132.59,281.53 L132.76,280.84 L132.93,280.15 L133.10,279.47 L133.27,278.78 L133.44,278.09 L133.61,277.40 L133.79,276.71 L133.96,276.03 L134.14,275.34 L134.32,274.65 L134.50,273.97 L134.68,273.28 L134.86,272.60 L135.04,271.91 L135.23,271.23 L135.41,270.54 L135.60,269.86 L135.79,269.17 L135.98,268.49 L136.17,267.81 L136.36,267.13 L136.55,266.45 L136.75,265.76 L136.94,265.08 L137.14,264.40 L137.34,263.72 L137.54,263.04 L137.74,262.37 L137.94,261.69 L138.15,261.01 L138.35,260.33 L138.56,259.66 L138.77,258.98 L138.98,258.30 L139.19,257.63 L139.40,256.96 L139.62,256.28 L139.84,255.61 L140.05,254.94 L140.27,254.26 L140.49,253.59 L140.72,252.92 L140.94,252.25 L141.17,251.58 L141.40,250.91 L141.63,250.25 L141.86,249.58 L142.09,248.91 L142.32,248.25 L142.56,247.58 L142.80,246.92 L143.04,246.25 L143.28,245.59 L143.52,244.93 L143.77,244.26 L144.02,243.60 L144.26,242.94 L144.52,242.28 L144.77,241.62 L145.02,240.96 L145.28,240.31 L145.54,239.65 L145.80,239.00 L146.06,238.34 L146.32,237.69 L146.59,237.03 L146.86,236.38 L147.13,235.73 L147.40,235.08 L147.67,234.43 L147.95,233.78 L148.23,233.13 L148.51,232.48 L148.79,231.84 L149.07,231.19 L149.36,230.55 L149.65,229.91 L149.94,229.26 L150.23,228.62 L150.53,227.98 L150.82,227.34 L151.12,226.71 L151.42,226.07 L151.72,225.44 L152.03,224.80 L152.34,224.17 L152.65,223.54 L152.96,222.91 L153.27,222.28 L153.59,221.65 L153.91,221.02 L154.23,220.40 L154.55,219.77 L154.87,219.15 L155.20,218.53 L155.53,217.91 L155.86,217.29 L156.19,216.67 L156.53,216.06 L156.87,215.44 L157.21,214.83 L157.55,214.22 L157.90,213.61 L158.24,213.00 L158.59,212.39 L158.95,211.79 L159.30,211.18 L159.66,210.58 L160.02,209.98 L160.38,209.38 L160.74,208.79 L161.11,208.19 L161.48,207.60 L161.85,207.00 L162.22,206.41 L162.60,205.82 L162.98,205.24 L163.36,204.65 L163.74,204.07 L164.13,203.49 L164.52,202.91 L164.91,202.33 L165.30,201.75 L165.70,201.18 L166.09,200.60 L166.50,200.03 L166.90,199.46 L167.30,198.90 L167.71,198.33 L168.12,197.77 L168.54,197.21 L168.95,196.65 L169.37,196.09 L169.79,195.54 L170.22,194.98 L170.64,194.43 L171.07,193.88 L171.50,193.34 L171.93,192.79 L172.37,192.25 L172.81,191.71 L173.25,191.17 L173.69,190.63 L174.14,190.09 L174.58,189.56 L175.03,189.03 L175.49,188.50 L175.94,187.97 L176.40,187.45 L176.86,186.93 L177.32,186.41 L177.78,185.89 L178.25,185.37 L178.72,184.86 L179.19,184.35 L179.66,183.84 L180.14,183.33 L180.62,182.82 L181.10,182.32 L181.58,181.82 L182.06,181.32 L182.55,180.82 L183.04,180.33 L183.53,179.84 L184.02,179.35 L184.52,178.86 L185.02,178.37 L185.52,177.89 L186.02,177.41 L186.52,176.93 L187.03,176.45 L187.54,175.98 L188.05,175.51 L188.56,175.04 L189.08,174.57 L189.59,174.11 L190.11,173.64 L190.63,173.18 L191.16,172.72 L191.68,172.27 L192.21,171.81 L192.74,171.36 L193.27,170.91 L193.81,170.47 L194.34,170.02 L194.88,169.58 L195.42,169.14 L195.96,168.70 L196.50,168.26 L197.05,167.83 L197.59,167.40 L198.14,166.97 L198.69,166.54 L199.25,166.12 L199.80,165.69 L200.36,165.27 L200.91,164.85 L201.47,164.44 L202.04,164.02 L202.60,163.61 L203.16,163.20 L203.73,162.79 L204.30,162.38 L204.87,161.98 L205.44,161.58 L206.02,161.18 L206.59,160.78 L207.17,160.38 L207.75,159.99 L208.33,159.60 L208.91,159.21 L209.49,158.82 L210.08,158.43 L210.66,158.05 L211.25,157.67 L211.84,157.29 L212.43,156.91 L213.03,156.54 L213.62,156.16 L214.22,155.79 L214.81,155.42 L215.41,155.05 L216.01,154.69 L216.61,154.32 L217.22,153.96 L217.82,153.60 L218.43,153.24 L219.04,152.88 L219.64,152.53 L220.25,152.18 L220.87,151.83 L221.48,151.48 L222.09,151.13 L222.71,150.79 L223.32,150.44 L223.94,150.10 L224.56,149.76 L225.18,149.42 L225.80,149.09 L226.43,148.75 L227.05,148.42 L227.68,148.09 L228.30,147.76 L228.93,147.43 L229.56,147.11 L230.19,146.79 L230.82,146.46 L231.45,146.14 L232.08,145.83 L232.72,145.51 L233.35,145.19 L233.99,144.88 L234.63,144.57 L235.27,144.26 L235.91,143.95 L236.55,143.65 L237.19,143.34 L237.83,143.04 L238.47,142.74 L239.12,142.44 L239.76,142.14 L240.41,141.85 L241.06,141.55 L241.70,141.26 L242.35,140.97 L243.00,140.68 L243.65,140.39 L244.31,140.10 L244.96,139.82 L245.61,139.54 L246.26,139.25 L246.92,138.97 L247.57,138.70 L248.23,138.42 L248.89,138.14 L249.54,137.87 L250.20,137.60 L250.86,137.33 L251.52,137.06 L252.18,136.79 L252.84,136.53 L253.50,136.26 L254.17,136.00 L254.83,135.74 L255.49,135.48 L256.16,135.22 L256.82,134.96 L257.49,134.71 L258.15,134.45 L258.82,134.20 L259.48,133.95 L260.15,133.70 L260.82,133.45 L261.49,133.20 L262.16,132.96 L262.83,132.71 L263.50,132.47 L264.17,132.23 L264.84,131.99 L265.51,131.75 L266.18,131.51 L266.85,131.28 L267.52,131.04 L268.19,130.81 L268.87,130.58 L269.54,130.35 L270.21,130.12 L270.88,129.89 L271.56,129.67 L272.23,129.44 L272.91,129.22 L273.58,128.99 L274.26,128.77 L274.93,128.55 L275.60,128.33 L276.28,128.12 L276.96,127.90 L277.63,127.69 L278.31,127.47 L278.98,127.26 L279.66,127.05 L280.33,126.84 L281.01,126.63 L281.69,126.42 L282.36,126.22 L283.04,126.01 L283.72,125.81 L284.39,125.60 L285.07,125.40 L285.75,125.20 L286.43,125.00 L287.10,124.81 L287.78,124.61 L288.46,124.41 L289.14,124.22 L289.82,124.03 L290.49,123.83 L291.17,123.64 L291.85,123.45 L292.53,123.27 L293.21,123.08 L293.89,122.89 L294.57,122.71 L295.25,122.52 L295.93,122.34 L296.61,122.16 L297.29,121.98 L297.97,121.80 L298.65,121.62 L299.33,121.44 L300.01,121.27 L300.69,121.09 L301.37,120.92 L302.06,120.74 L302.74,120.57 L303.42,120.40 L304.10,120.23 L304.78,120.06 L305.46,119.90 L306.15,119.73 L306.83,119.56 L307.51,119.40 L308.20,119.24 L308.88,119.07 L309.56,118.91 L310.25,118.75 L310.93,118.59 L311.61,118.43 L312.30,118.28 L312.98,118.12 L313.67,117.97 L314.35,117.81 L315.04,117.66 L315.72,117.51 L316.41,117.36 L317.09,117.21 L317.78,117.06 L318.46,116.91 L319.15,116.76 L319.83,116.62 L320.52,116.47 L321.21,116.33 L321.89,116.18 L322.58,116.04 L323.27,115.90 L323.96,115.76 L324.64,115.62 L325.33,115.48 L326.02,115.34 L326.71,115.20 L327.39,115.07 L328.08,114.93 L328.77,114.80 L329.46,114.67 L330.15,114.53 L330.84,114.40 L331.53,114.27 L332.22,114.14 L332.91,114.01 L333.60,113.89 L334.29,113.76 L334.98,113.63 L335.67,113.51 L336.36,113.38 L337.05,113.26 L337.74,113.14 L338.43,113.02 L339.12,112.89 L339.82,112.77 L340.51,112.66 L341.20,112.54 L341.89,112.42 L342.58,112.30 L343.28,112.19 L343.97,112.07 L344.66,111.96 L345.36,111.84 L346.05,111.73 L346.74,111.62 L347.44,111.51 L348.13,111.40 L348.83,111.29 L349.52,111.18 L350.22,111.07 L350.91,110.96 L351.61,110.86 L352.30,110.75 L353.00,110.64 L353.69,110.54 L354.39,110.44 L355.09,110.33 L355.78,110.23 L356.48,110.13 L357.18,110.03 L357.87,109.93 L358.57,109.83 L359.27,109.73 L359.97,109.63 L360.66,109.54 L361.36,109.44 L362.06,109.34 L362.76,109.25 L363.46,109.15 L364.16,109.06 L364.86,108.97 L365.56,108.87 L366.26,108.78 L366.96,108.69 L367.66,108.60 L368.36,108.51 L369.06,108.42 L369.76,108.33 L370.46,108.24 L371.16,108.16 L371.86,108.07 L372.56,107.98 L373.27,107.90 L373.97,107.81 L374.67,107.73 L375.37,107.65 L376.08,107.56 L376.78,107.48 L377.48,107.40 L378.19,107.32 L378.89,107.24 L379.59,107.16 L380.30,107.08 L381.00,107.00 L381.71,106.92 L382.41,106.84 L383.12,106.77 L383.82,106.69 L384.53,106.61 L385.23,106.54 L385.94,106.46 L386.65,106.39 L387.35,106.31 L388.06,106.24 L388.77,106.17 L389.47,106.09 L390.18,106.02 L390.89,105.95 L391.60,105.88 L392.31,105.81 L393.01,105.74 L393.72,105.67 L394.43,105.60 L395.14,105.53 L395.85,105.46 L405.80,104.49" stroke="#009900" stroke-width="1.75" stroke-dasharray="10.7 11.49" stroke-dashoffset="1.35"/>
<path d="M125.06,362.19 L127.20,352.42 L127.35,351.76 L127.50,351.09 L127.64,350.43 L127.79,349.77 L127.93,349.11 L128.08,348.45 L128.22,347.78 L128.37,347.12 L128.51,346.46 L128.65,345.81 L128.79,345.15 L128.94,344.49 L129.08,343.83 L129.22,343.18 L129.36,342.52 L129.50,341.86 L129.65,341.21 L129.79,340.56 L129.93,339.90 L130.07,339.25 L130.21,338.60 L130.35,337.94 L130.49,337.29 L130.63,336.64 L130.77,335.99 L130.91,335.34 L131.05,334.69 L131.19,334.04 L131.33,333.40 L131.46,332.75 L131.60,332.10 L131.74,331.45 L131.88,330.81 L132.02,330.16 L132.16,329.52 L132.30,328.87 L132.44,328.23 L132.58,327.58 L132.71,326.94 L132.85,326.30 L132.99,325.66 L133.13,325.01 L133.27,324.37 L133.41,323.73 L133.55,323.09 L133.69,322.45 L133.83,321.81 L133.96,321.17 L134.10,320.53 L134.24,319.89 L134.38,319.26 L134.52,318.62 L134.66,317.98 L134.80,317.34 L134.94,316.71 L135.08,316.07 L135.22,315.44 L135.37,314.80 L135.51,314.16 L135.65,313.53 L135.79,312.90 L135.93,312.26 L136.07,311.63 L136.22,311.00 L136.36,310.36 L136.50,309.73 L136.65,309.10 L136.79,308.47 L136.94,307.83 L137.08,307.20 L137.22,306.57 L137.37,305.94 L137.52,305.31 L137.66,304.68 L137.81,304.05 L137.96,303.42 L138.10,302.79 L138.25,302.16 L138.40,301.54 L138.55,300.91 L138.70,300.28 L138.85,299.65 L139.00,299.02 L139.15,298.40 L139.30,297.77 L139.45,297.14 L139.61,296.52 L139.76,295.89 L139.91,295.26 L140.07,294.64 L140.22,294.01 L140.38,293.39 L140.53,292.76 L140.69,292.14 L140.85,291.51 L141.01,290.89 L141.16,290.26 L141.32,289.64 L141.48,289.01 L141.64,288.39 L141.81,287.77 L141.97,287.14 L142.13,286.52 L142.30,285.90 L142.46,285.27 L142.62,284.65 L142.79,284.03 L142.96,283.40 L143.13,282.78 L143.29,282.16 L143.46,281.54 L143.63,280.91 L143.81,280.29 L143.98,279.67 L144.15,279.05 L144.32,278.43 L144.50,277.80 L144.67,277.18 L144.85,276.56 L145.03,275.94 L145.21,275.32 L145.39,274.70 L145.57,274.07 L145.75,273.45 L145.93,272.83 L146.11,272.21 L146.30,271.59 L146.48,270.97 L146.67,270.35 L146.86,269.73 L147.04,269.10 L147.23,268.48 L147.42,267.86 L147.62,267.24 L147.81,266.62 L148.00,266.00 L148.20,265.38 L148.40,264.76 L148.59,264.14 L148.79,263.51 L148.99,262.89 L149.19,262.27 L149.39,261.65 L149.60,261.03 L149.80,260.41 L150.01,259.79 L150.21,259.17 L150.42,258.54 L150.63,257.92 L150.84,257.30 L151.06,256.68 L151.27,256.06 L151.48,255.43 L151.70,254.81 L151.92,254.19 L152.14,253.57 L152.36,252.95 L152.58,252.32 L152.80,251.70 L153.03,251.08 L153.25,250.46 L153.48,249.83 L153.71,249.21 L153.94,248.59 L154.17,247.96 L154.40,247.34 L154.64,246.72 L154.87,246.09 L155.11,245.47 L155.35,244.85 L155.59,244.22 L155.83,243.60 L156.08,242.98 L156.32,242.35 L156.57,241.73 L156.82,241.11 L157.07,240.49 L157.32,239.86 L157.57,239.24 L157.82,238.62 L158.08,238.00 L158.34,237.38 L158.60,236.76 L158.86,236.14 L159.12,235.52 L159.39,234.91 L159.66,234.29 L159.92,233.67 L160.19,233.05 L160.47,232.44 L160.74,231.82 L161.02,231.21 L161.29,230.60 L161.57,229.99 L161.85,229.37 L162.13,228.76 L162.42,228.15 L162.71,227.55 L162.99,226.94 L163.28,226.33 L163.58,225.73 L163.87,225.12 L164.17,224.52 L164.46,223.92 L164.76,223.32 L165.07,222.72 L165.37,222.12 L165.68,221.52 L165.98,220.93 L166.29,220.34 L166.60,219.74 L166.92,219.15 L167.23,218.56 L167.55,217.98 L167.87,217.39 L168.19,216.80 L168.52,216.22 L168.84,215.64 L169.17,215.06 L169.50,214.48 L169.84,213.91 L170.17,213.33 L170.51,212.76 L170.85,212.19 L171.19,211.62 L171.53,211.05 L171.88,210.49 L172.22,209.92 L172.57,209.36 L172.93,208.81 L173.28,208.25 L173.64,207.69 L174.00,207.14 L174.36,206.59 L174.72,206.04 L175.09,205.50 L175.46,204.95 L175.83,204.41 L176.20,203.88 L176.58,203.34 L176.96,202.81 L177.34,202.27 L177.72,201.75 L178.10,201.22 L178.49,200.70 L178.88,200.17 L179.27,199.66 L179.67,199.14 L180.07,198.63 L180.47,198.12 L180.87,197.61 L181.27,197.10 L181.68,196.60 L182.09,196.10 L182.50,195.61 L182.92,195.12 L183.34,194.63 L183.76,194.14 L184.18,193.65 L184.61,193.17 L185.03,192.70 L185.47,192.22 L185.90,191.75 L186.34,191.28 L186.77,190.82 L187.22,190.35 L187.66,189.90 L188.11,189.44 L188.56,188.99 L189.01,188.54 L189.46,188.10 L189.92,187.66 L190.38,187.22 L190.85,186.78 L191.31,186.35 L191.78,185.93 L192.26,185.50 L192.73,185.08 L193.21,184.67 L193.69,184.25 L194.17,183.85 L194.66,183.44 L195.15,183.04 L195.64,182.64 L196.13,182.25 L196.63,181.86 L197.13,181.48 L197.64,181.10 L198.14,180.72 L198.65,180.35 L199.17,179.98 L199.68,179.61 L200.20,179.25 L200.72,178.90 L201.25,178.55 L201.78,178.20 L202.31,177.86 L202.84,177.52 L203.38,177.18 L203.92,176.85 L204.46,176.53 L205.01,176.21 L205.56,175.89 L206.11,175.58 L206.67,175.27 L207.23,174.97 L207.79,174.67 L208.36,174.38 L208.93,174.09 L209.50,173.80 L210.07,173.52 L210.65,173.25 L211.23,172.98 L211.81,172.71 L212.40,172.45 L212.98,172.19 L213.57,171.94 L214.17,171.69 L214.76,171.44 L215.36,171.20 L215.96,170.97 L216.56,170.73 L217.17,170.51 L217.78,170.28 L218.39,170.06 L219.00,169.85 L219.61,169.64 L220.23,169.43 L220.85,169.23 L221.47,169.03 L222.09,168.83 L222.71,168.64 L223.34,168.46 L223.97,168.27 L224.60,168.10 L225.23,167.92 L225.86,167.75 L226.50,167.59 L227.13,167.42 L227.77,167.27 L228.41,167.11 L229.05,166.96 L229.69,166.81 L230.34,166.67 L230.98,166.53 L231.63,166.40 L232.28,166.27 L232.93,166.14 L233.58,166.01 L234.23,165.90 L234.88,165.78 L235.53,165.67 L236.19,165.56 L236.84,165.45 L237.50,165.35 L238.16,165.25 L238.81,165.16 L239.47,165.07 L240.13,164.98 L240.79,164.90 L241.45,164.82 L242.11,164.74 L242.78,164.67 L243.44,164.60 L244.10,164.53 L244.76,164.47 L245.43,164.41 L246.09,164.36 L246.76,164.31 L247.42,164.26 L248.08,164.21 L248.75,164.17 L249.41,164.13 L250.08,164.10 L250.74,164.06 L251.41,164.04 L252.07,164.01 L252.73,163.99 L253.40,163.97 L254.06,163.95 L254.73,163.94 L255.39,163.93 L256.05,163.93 L256.72,163.92 L257.38,163.92 L258.04,163.92 L258.70,163.93 L259.36,163.94 L260.02,163.95 L260.68,163.96 L261.35,163.98 L262.01,164.00 L262.67,164.02 L263.33,164.05 L263.98,164.08 L264.64,164.11 L265.30,164.14 L265.96,164.18 L266.62,164.21 L267.28,164.25 L267.94,164.30 L268.59,164.34 L269.25,164.39 L269.91,164.44 L270.56,164.49 L271.22,164.54 L271.88,164.60 L272.53,164.66 L273.19,164.72 L273.84,164.78 L274.50,164.85 L275.15,164.91 L275.81,164.98 L276.46,165.05 L277.12,165.12 L277.77,165.19 L278.42,165.27 L279.08,165.35 L279.73,165.42 L280.38,165.50 L281.03,165.59 L281.69,165.67 L282.34,165.75 L282.99,165.84 L283.64,165.93 L284.29,166.02 L284.94,166.11 L285.59,166.20 L286.24,166.29 L286.89,166.38 L287.54,166.48 L288.19,166.57 L288.84,166.67 L289.49,166.77 L290.14,166.87 L290.79,166.97 L291.44,167.07 L292.09,167.17 L292.74,167.27 L293.38,167.37 L294.03,167.48 L294.68,167.58 L295.33,167.69 L295.97,167.79 L296.62,167.90 L297.27,168.01 L297.91,168.11 L298.56,168.22 L299.21,168.33 L299.85,168.44 L300.50,168.55 L301.14,168.66 L301.79,168.77 L302.43,168.88 L303.08,168.99 L303.72,169.10 L304.37,169.21 L305.01,169.32 L305.66,169.44 L306.30,169.55 L306.94,169.66 L307.59,169.78 L308.23,169.89 L308.87,170.00 L309.52,170.12 L310.16,170.23 L310.80,170.35 L311.45,170.47 L312.09,170.58 L312.73,170.70 L313.37,170.82 L314.01,170.93 L314.66,171.05 L315.30,171.17 L315.94,171.29 L316.58,171.41 L317.22,171.53 L317.86,171.65 L318.51,171.77 L319.15,171.89 L319.79,172.01 L320.43,172.13 L321.07,172.25 L321.71,172.38 L322.35,172.50 L322.99,172.62 L323.63,172.74 L324.27,172.87 L324.91,172.99 L325.55,173.12 L326.19,173.24 L326.83,173.36 L327.47,173.49 L328.11,173.61 L328.75,173.74 L329.39,173.87 L330.03,173.99 L330.67,174.12 L331.31,174.25 L331.95,174.37 L332.58,174.50 L333.22,174.63 L333.86,174.76 L334.50,174.88 L335.14,175.01 L335.78,175.14 L336.42,175.27 L337.06,175.40 L337.70,175.53 L338.33,175.66 L338.97,175.79 L339.61,175.92 L340.25,176.05 L340.89,176.18 L341.53,176.31 L342.17,176.45 L342.80,176.58 L343.44,176.71 L344.08,176.84 L344.72,176.97 L345.36,177.11 L346.00,177.24 L346.63,177.37 L347.27,177.51 L347.91,177.64 L348.55,177.77 L349.19,177.91 L349.83,178.04 L350.47,178.18 L351.10,178.31 L351.74,178.45 L352.38,178.58 L353.02,178.72 L353.66,178.85 L354.30,178.99 L354.94,179.12 L355.57,179.26 L356.21,179.40 L356.85,179.53 L357.49,179.67 L358.13,179.81 L358.77,179.94 L359.41,180.08 L360.05,180.22 L360.69,180.36 L361.33,180.49 L361.96,180.63 L362.60,180.77 L363.24,180.91 L363.88,181.05 L364.52,181.18 L365.16,181.32 L365.80,181.46 L366.44,181.60 L367.08,181.74 L367.72,181.88 L368.36,182.02 L369.00,182.16 L369.64,182.30 L370.28,182.44 L370.92,182.58 L371.56,182.72 L372.20,182.86 L372.85,183.00 L373.49,183.14 L374.13,183.28 L374.77,183.42 L375.41,183.56 L376.05,183.70 L376.69,183.84 L377.33,183.98 L377.98,184.12 L378.62,184.26 L379.26,184.40 L379.90,184.54 L380.55,184.69 L381.19,184.83 L381.83,184.97 L382.47,185.11 L383.12,185.25 L383.76,185.39 L384.40,185.53 L385.05,185.68 L385.69,185.82 L386.33,185.96 L386.98,186.10 L387.62,186.24 L388.27,186.39 L388.91,186.53 L389.56,186.67 L390.20,186.81 L390.85,186.95 L391.49,187.10 L392.14,187.24 L392.78,187.38 L393.43,187.52 L394.08,187.66 L394.72,187.81 L395.37,187.95 L405.14,190.10" stroke="#6666FF" stroke-width="1.75" stroke-dasharray="10.6 5.67 3.0 5.67" stroke-dashoffset="7.83"/>
<path d="M156.31,369.28 L156.45,359.28 L156.46,358.59 L156.46,357.89 L156.47,357.20 L156.49,356.50 L156.50,355.81 L156.52,355.12 L156.54,354.43 L156.56,353.74 L156.58,353.05 L156.61,352.35 L156.64,351.67 L156.67,350.98 L156.70,350.29 L156.73,349.60 L156.77,348.91 L156.81,348.23 L156.85,347.54 L156.90,346.85 L156.94,346.17 L156.99,345.48 L157.04,344.80 L157.09,344.12 L157.15,343.43 L157.20,342.75 L157.26,342.07 L157.32,341.39 L157.39,340.71 L157.45,340.03 L157.52,339.35 L157.59,338.67 L157.66,337.99 L157.73,337.31 L157.81,336.64 L157.89,335.96 L157.97,335.28 L158.05,334.61 L158.14,333.93 L158.22,333.26 L158.31,332.59 L158.40,331.91 L158.50,331.24 L158.59,330.57 L158.69,329.90 L158.79,329.23 L158.89,328.56 L158.99,327.89 L159.10,327.22 L159.20,326.55 L159.31,325.88 L159.42,325.22 L159.54,324.55 L159.65,323.88 L159.77,323.22 L159.89,322.55 L160.01,321.89 L160.14,321.23 L160.26,320.56 L160.39,319.90 L160.52,319.24 L160.65,318.58 L160.78,317.92 L160.92,317.26 L161.06,316.60 L161.20,315.94 L161.34,315.28 L161.48,314.62 L161.63,313.96 L161.77,313.31 L161.92,312.65 L162.07,312.00 L162.23,311.34 L162.38,310.69 L162.54,310.04 L162.70,309.38 L162.86,308.73 L163.02,308.08 L163.19,307.43 L163.35,306.78 L163.52,306.13 L163.69,305.48 L163.86,304.83 L164.04,304.18 L164.21,303.54 L164.39,302.89 L164.57,302.24 L164.75,301.60 L164.93,300.95 L165.12,300.31 L165.31,299.67 L165.49,299.02 L165.68,298.38 L165.88,297.74 L166.07,297.10 L166.27,296.46 L166.47,295.82 L166.66,295.18 L166.87,294.54 L167.07,293.90 L167.27,293.26 L167.48,292.63 L167.69,291.99 L167.90,291.36 L168.11,290.72 L168.33,290.09 L168.54,289.45 L168.76,288.82 L168.98,288.19 L169.20,287.56 L169.42,286.93 L169.64,286.30 L169.87,285.67 L170.10,285.04 L170.33,284.41 L170.56,283.78 L170.79,283.16 L171.03,282.53 L171.26,281.90 L171.50,281.28 L171.74,280.65 L171.98,280.03 L172.22,279.41 L172.47,278.79 L172.71,278.16 L172.96,277.54 L173.21,276.92 L173.46,276.30 L173.72,275.68 L173.97,275.06 L174.23,274.45 L174.48,273.83 L174.74,273.21 L175.00,272.60 L175.27,271.98 L175.53,271.37 L175.80,270.75 L176.06,270.14 L176.33,269.53 L176.60,268.91 L176.87,268.30 L177.15,267.69 L177.42,267.08 L177.70,266.47 L177.98,265.87 L178.26,265.26 L178.54,264.65 L178.82,264.04 L179.11,263.44 L179.39,262.83 L179.68,262.23 L179.97,261.62 L180.26,261.02 L180.55,260.42 L180.85,259.82 L181.14,259.21 L181.44,258.61 L181.73,258.01 L182.03,257.42 L182.34,256.82 L182.64,256.22 L182.94,255.62 L183.25,255.03 L183.55,254.43 L183.86,253.83 L184.17,253.24 L184.48,252.65 L184.80,252.05 L185.11,251.46 L185.42,250.87 L185.74,250.28 L186.06,249.69 L186.38,249.10 L186.70,248.51 L187.02,247.92 L187.35,247.33 L187.67,246.75 L188.00,246.16 L188.33,245.58 L188.66,244.99 L188.99,244.41 L189.32,243.82 L189.65,243.24 L189.99,242.66 L190.32,242.08 L190.66,241.50 L191.00,240.92 L191.34,240.34 L191.68,239.76 L192.02,239.18 L192.37,238.61 L192.71,238.03 L193.06,237.45 L193.41,236.88 L193.76,236.31 L194.11,235.73 L194.46,235.16 L194.81,234.59 L195.17,234.02 L195.52,233.45 L195.88,232.88 L196.24,232.31 L196.60,231.74 L196.96,231.17 L197.32,230.60 L197.68,230.04 L198.05,229.47 L198.41,228.91 L198.78,228.34 L199.15,227.78 L199.52,227.22 L199.89,226.65 L200.26,226.09 L200.63,225.53 L201.01,224.97 L201.38,224.41 L201.76,223.86 L202.14,223.30 L202.52,222.74 L202.90,222.19 L203.28,221.63 L203.66,221.08 L204.04,220.52 L204.43,219.97 L204.81,219.42 L205.20,218.86 L205.59,218.31 L205.98,217.76 L206.37,217.21 L206.76,216.66 L207.15,216.12 L207.54,215.57 L207.94,215.02 L208.33,214.48 L208.73,213.93 L209.13,213.39 L209.53,212.84 L209.93,212.30 L210.33,211.76 L210.73,211.22 L211.13,210.68 L211.54,210.14 L211.94,209.60 L212.35,209.06 L212.76,208.52 L213.17,207.99 L213.58,207.45 L213.99,206.91 L214.40,206.38 L214.81,205.85 L215.22,205.31 L215.64,204.78 L216.05,204.25 L216.47,203.72 L216.89,203.19 L217.31,202.66 L217.73,202.13 L218.15,201.60 L218.57,201.08 L218.99,200.55 L219.41,200.02 L219.84,199.50 L220.26,198.98 L220.69,198.45 L221.11,197.93 L221.54,197.41 L221.97,196.89 L222.40,196.37 L222.83,195.85 L223.26,195.33 L223.70,194.81 L224.13,194.30 L224.56,193.78 L225.00,193.26 L225.43,192.75 L225.87,192.24 L226.31,191.72 L226.75,191.21 L227.19,190.70 L227.63,190.19 L228.07,189.68 L228.51,189.17 L228.95,188.66 L229.40,188.15 L229.84,187.65 L230.29,187.14 L230.73,186.64 L231.18,186.13 L231.63,185.63 L232.08,185.12 L232.52,184.62 L232.97,184.12 L233.43,183.62 L233.88,183.12 L234.33,182.62 L234.78,182.12 L235.24,181.63 L235.69,181.13 L236.15,180.63 L236.60,180.14 L237.06,179.64 L237.52,179.15 L237.98,178.66 L238.44,178.17 L238.90,177.67 L239.36,177.18 L239.82,176.69 L240.28,176.20 L240.74,175.72 L241.21,175.23 L241.67,174.74 L242.14,174.26 L242.60,173.77 L243.07,173.29 L243.54,172.80 L244.01,172.32 L244.48,171.84 L244.94,171.35 L245.42,170.87 L245.89,170.39 L246.36,169.91 L246.83,169.43 L247.30,168.96 L247.78,168.48 L248.25,168.00 L248.73,167.53 L249.20,167.05 L249.68,166.57 L250.16,166.10 L250.63,165.63 L251.11,165.15 L251.59,164.68 L252.07,164.21 L252.55,163.74 L253.03,163.27 L253.52,162.80 L254.00,162.33 L254.48,161.86 L254.97,161.40 L255.45,160.93 L255.94,160.47 L256.42,160.00 L256.91,159.54 L257.39,159.07 L257.88,158.61 L258.37,158.15 L258.86,157.68 L259.35,157.22 L259.84,156.76 L260.33,156.30 L260.82,155.84 L261.31,155.38 L261.81,154.92 L262.30,154.47 L262.79,154.01 L263.29,153.55 L263.78,153.10 L264.28,152.64 L264.77,152.19 L265.27,151.73 L265.77,151.28 L266.27,150.83 L266.76,150.38 L267.26,149.92 L267.76,149.47 L268.26,149.02 L268.76,148.57 L269.26,148.12 L269.77,147.68 L270.27,147.23 L270.77,146.78 L271.27,146.33 L271.78,145.89 L272.28,145.44 L272.79,145.00 L273.29,144.55 L273.80,144.11 L274.31,143.67 L274.81,143.22 L275.32,142.78 L275.83,142.34 L276.34,141.90 L276.85,141.46 L277.36,141.02 L277.87,140.58 L278.38,140.14 L278.89,139.70 L279.40,139.26 L279.91,138.83 L280.43,138.39 L280.94,137.95 L281.45,137.52 L281.97,137.08 L282.48,136.65 L283.00,136.21 L283.51,135.78 L284.03,135.35 L284.54,134.92 L285.06,134.48 L285.58,134.05 L286.10,133.62 L286.62,133.19 L287.13,132.76 L287.65,132.33 L288.17,131.90 L288.69,131.47 L289.21,131.05 L289.73,130.62 L290.26,130.19 L290.78,129.77 L291.30,129.34 L291.82,128.91 L292.35,128.49 L292.87,128.06 L293.39,127.64 L293.92,127.22 L294.44,126.79 L294.97,126.37 L295.49,125.95 L296.02,125.53 L296.54,125.11 L297.07,124.69 L297.60,124.26 L298.12,123.84 L298.65,123.43 L299.18,123.01 L299.71,122.59 L300.24,122.17 L300.77,121.75 L301.30,121.33 L301.83,120.92 L302.36,120.50 L302.89,120.09 L303.42,119.67 L303.95,119.26 L304.48,118.84 L305.01,118.43 L305.55,118.01 L306.08,117.60 L306.61,117.19 L307.15,116.77 L307.68,116.36 L308.21,115.95 L308.75,115.54 L309.28,115.13 L309.82,114.72 L310.35,114.31 L310.89,113.90 L311.42,113.49 L311.96,113.08 L312.50,112.67 L313.03,112.26 L313.57,111.85 L314.11,111.45 L314.65,111.04 L315.18,110.63 L315.72,110.23 L316.26,109.82 L316.80,109.41 L317.34,109.01 L317.88,108.60 L318.42,108.20 L318.96,107.80 L319.50,107.39 L320.04,106.99 L320.58,106.58 L321.12,106.18 L321.66,105.78 L322.20,105.38 L322.74,104.98 L323.28,104.57 L323.83,104.17 L324.37,103.77 L324.91,103.37 L325.45,102.97 L326.00,102.57 L326.54,102.17 L327.08,101.77 L327.63,101.37 L328.17,100.98 L328.72,100.58 L329.26,100.18 L329.80,99.78 L330.35,99.38 L330.89,98.99 L331.44,98.59 L331.98,98.19 L332.53,97.80 L333.07,97.40 L333.62,97.01 L334.17,96.61 L334.71,96.22 L335.26,95.82 L335.80,95.43 L336.35,95.03 L336.90,94.64 L337.44,94.25 L337.99,93.85 L338.54,93.46 L339.08,93.07 L339.63,92.67 L340.18,92.28 L340.73,91.89 L341.28,91.50 L341.82,91.11 L342.37,90.71 L342.92,90.32 L343.47,89.93 L344.02,89.54 L344.56,89.15 L345.11,88.76 L345.66,88.37 L346.21,87.98 L346.76,87.59 L347.31,87.20 L347.86,86.81 L348.41,86.43 L348.96,86.04 L349.51,85.65 L350.06,85.26 L350.60,84.87 L351.15,84.48 L351.70,84.10 L352.25,83.71 L352.80,83.32 L353.35,82.94 L353.90,82.55 L354.45,82.16 L355.00,81.78 L355.55,81.39 L356.10,81.00 L356.65,80.62 L357.20,80.23 L357.75,79.85 L358.30,79.46 L358.85,79.08 L359.41,78.69 L359.96,78.31 L360.51,77.92 L361.06,77.54 L361.61,77.15 L362.16,76.77 L362.71,76.39 L363.26,76.00 L363.81,75.62 L364.36,75.23 L364.91,74.85 L365.46,74.47 L366.01,74.08 L366.56,73.70 L367.11,73.32 L367.66,72.94 L368.21,72.55 L368.76,72.17 L369.31,71.79 L369.86,71.41 L370.41,71.02 L370.96,70.64 L371.51,70.26 L372.06,69.88 L372.61,69.50 L373.16,69.12 L373.71,68.73 L374.26,68.35 L374.81,67.97 L375.36,67.59 L375.91,67.21 L376.46,66.83 L377.01,66.45 L377.56,66.07 L378.11,65.69 L378.66,65.31 L379.21,64.92 L379.76,64.54 L380.31,64.16 L380.86,63.78 L381.41,63.40 L381.96,63.02 L382.51,62.64 L383.05,62.26 L383.60,61.88 L384.15,61.50 L384.70,61.12 L385.25,60.74 L385.80,60.36 L386.34,59.98 L386.89,59.60 L387.44,59.22 L387.99,58.84 L388.53,58.46 L389.08,58.09 L389.63,57.71 L390.18,57.33 L390.72,56.95 L391.27,56.57 L391.82,56.19 L392.36,55.81 L392.91,55.43 L393.45,55.05 L394.00,54.67 L394.55,54.29 L402.76,48.58" stroke="#990099" stroke-width="2.1" stroke-dasharray="2.2 5.566" stroke-dashoffset="7.25"/>
<path d="M100.63,371.67 L101.05,369.41 L101.47,367.16 L101.89,364.91 L102.32,362.66 L102.74,360.40 L103.16,358.15 L103.55,355.88 L103.90,353.62 L104.26,351.34 L104.61,349.08 L104.97,346.87 L105.32,344.70 L105.68,342.56 L106.04,340.46 L106.41,338.39 L106.77,336.35 L107.14,334.33 L107.50,332.35 L107.87,330.39 L108.24,328.45 L108.62,326.53 L108.99,324.64 L109.37,322.77 L109.74,320.91 L110.12,319.08 L110.50,317.26 L110.89,315.46 L111.27,313.67 L111.66,311.90 L112.04,310.14 L112.43,308.40 L112.82,306.67 L113.21,304.95 L113.61,303.25 L114.00,301.55 L114.40,299.87 L114.79,298.20 L115.19,296.53 L115.59,294.88 L115.99,293.23 L116.40,291.59 L116.80,289.95 L117.21,288.32 L117.61,286.69 L118.02,285.06 L118.43,283.44 L118.84,281.82 L119.26,280.20 L119.67,278.58 L120.09,276.97 L120.50,275.36 L120.92,273.75 L121.34,272.15 L121.76,270.55 L122.18,268.95 L122.60,267.36 L123.03,265.77 L123.46,264.18 L123.88,262.60 L124.31,261.02 L124.74,259.45 L125.17,257.88 L125.61,256.32 L126.04,254.77 L126.47,253.22 L126.91,251.68 L127.35,250.14 L127.78,248.61 L128.22,247.09 L128.66,245.57 L129.11,244.07 L129.55,242.57 L129.99,241.08 L130.44,239.60 L130.88,238.14 L131.33,236.68 L131.77,235.24 L132.22,233.80 L132.67,232.38 L133.12,230.97 L133.57,229.57 L134.02,228.19 L134.47,226.82 L134.92,225.46 L135.37,224.11 L135.83,222.78 L136.28,221.46 L136.73,220.15 L137.19,218.85 L137.64,217.57 L138.09,216.30 L138.55,215.05 L139.00,213.81 L139.46,212.58 L139.91,211.37 L140.37,210.17 L140.82,208.99 L141.28,207.82 L141.73,206.66 L142.19,205.51 L142.64,204.38 L143.10,203.26 L143.55,202.15 L144.01,201.06 L144.46,199.97 L144.92,198.90 L145.37,197.84 L145.83,196.79 L146.29,195.76 L146.75,194.74 L147.21,193.73 L147.67,192.73 L148.13,191.74 L148.59,190.76 L149.05,189.79 L149.51,188.83 L149.97,187.88 L150.42,186.94 L150.88,186.02 L151.34,185.10 L151.80,184.19 L152.26,183.29 L152.71,182.40 L153.17,181.52 L153.63,180.65 L154.08,179.79 L154.54,178.93 L155.00,178.08 L155.45,177.24 L155.91,176.40 L156.36,175.55 L156.82,174.69 L157.27,173.86 L157.73,173.05 L158.18,172.25 L158.63,171.45 L159.09,170.67 L159.54,169.89 L159.99,169.12 L160.45,168.36 L160.90,167.60 L161.35,166.85 L161.80,166.11 L162.25,165.38 L162.70,164.65 L163.15,163.93 L163.60,163.22 L164.05,162.51 L164.50,161.82 L164.95,161.12 L165.40,160.44 L165.84,159.76 L166.29,159.09 L166.74,158.43 L167.18,157.77 L167.63,157.12 L168.08,156.48 L168.52,155.84 L168.97,155.21 L169.41,154.58 L169.86,153.96 L170.30,153.35 L170.74,152.75 L171.19,152.15 L171.63,151.55 L172.07,150.96 L172.51,150.38 L172.95,149.81 L173.39,149.24 L173.84,148.67 L174.28,148.11 L174.72,147.56 L175.15,147.01 L175.59,146.47 L176.03,145.93 L176.47,145.40 L176.91,144.88 L177.35,144.36 L177.78,143.84 L178.22,143.33 L178.66,142.83 L179.09,142.33 L179.53,141.83 L179.97,141.34 L180.40,140.86 L180.84,140.38 L181.27,139.90 L181.70,139.44 L182.14,138.97 L182.57,138.51 L183.00,138.05 L183.43,137.60 L183.86,137.15 L184.29,136.71 L184.72,136.27 L185.15,135.83 L185.58,135.40 L186.01,134.98 L186.44,134.55 L186.86,134.14 L187.29,133.72 L187.72,133.31 L188.14,132.91 L188.57,132.51 L189.00,132.11 L189.42,131.72 L189.85,131.33 L190.27,130.94 L190.70,130.56 L191.12,130.19 L191.55,129.81 L191.97,129.44 L192.39,129.08 L192.82,128.71 L193.24,128.35 L193.67,128.00 L194.09,127.65 L194.51,127.30 L194.93,126.96 L195.35,126.62 L195.78,126.28 L196.20,125.94 L196.62,125.61 L197.04,125.28 L197.46,124.96 L197.88,124.64 L198.30,124.32 L198.73,124.01 L199.15,123.69 L199.57,123.39 L199.99,123.08 L200.41,122.78 L200.82,122.48 L201.25,122.18 L201.66,121.89 L202.08,121.60 L202.50,121.31 L202.92,121.03 L203.34,120.74 L203.76,120.46 L204.18,120.19 L204.59,119.92 L205.01,119.64 L205.43,119.37 L205.85,119.11 L206.27,118.84 L206.68,118.58 L207.10,118.33 L207.52,118.07 L207.94,117.81 L208.35,117.56 L208.77,117.31 L209.19,117.07 L209.60,116.82 L210.02,116.58 L210.44,116.34 L210.85,116.10 L211.27,115.87 L211.68,115.63 L212.10,115.40 L212.52,115.17 L212.93,114.95 L213.35,114.72 L213.77,114.50 L214.18,114.28 L214.60,114.06 L215.01,113.84 L215.43,113.62 L215.84,113.41 L216.26,113.20 L216.68,112.99 L217.09,112.78 L217.50,112.58 L217.92,112.37 L218.34,112.17 L218.75,111.97 L219.17,111.77 L219.58,111.57 L220.00,111.38 L220.41,111.19 L220.83,110.99 L221.24,110.81 L221.65,110.62 L222.07,110.43 L222.49,110.25 L222.90,110.06 L223.32,109.88 L223.73,109.70 L224.15,109.52 L224.56,109.35 L224.98,109.17 L225.39,108.99 L225.80,108.82 L226.22,108.65 L226.63,108.48 L227.05,108.31 L227.47,108.14 L227.88,107.98 L228.29,107.81 L228.71,107.65 L229.12,107.49 L229.54,107.33 L229.95,107.16 L230.37,107.01 L230.78,106.85 L231.20,106.69 L231.61,106.54 L232.03,106.39 L232.45,106.23 L232.86,106.08 L233.27,105.93 L233.69,105.78 L234.10,105.63 L234.52,105.48 L234.94,105.34 L235.35,105.19 L235.77,105.05 L236.18,104.91 L236.59,104.76 L237.01,104.62 L237.43,104.48 L237.84,104.34 L238.26,104.20 L238.67,104.07 L239.09,103.93 L239.51,103.79 L239.92,103.66 L240.34,103.52 L240.75,103.39 L241.17,103.26 L241.59,103.13 L242.00,103.00 L242.41,102.87 L242.83,102.74 L243.25,102.61 L243.66,102.48 L244.08,102.35 L244.50,102.23 L244.91,102.10 L245.33,101.98 L245.74,101.85 L246.16,101.73 L246.58,101.61 L246.99,101.49 L247.41,101.36 L247.83,101.24 L248.25,101.12 L248.66,101.00 L249.08,100.88 L249.50,100.76 L249.91,100.65 L250.33,100.53 L250.75,100.41 L251.16,100.30 L251.58,100.18 L252.00,100.06 L252.41,99.95 L252.84,99.83 L253.25,99.72 L253.67,99.60 L254.09,99.49 L254.50,99.38 L254.92,99.26 L255.34,99.15 L255.76,99.04 L256.18,98.93 L256.59,98.82 L257.01,98.70 L257.43,98.59 L257.85,98.48 L258.27,98.37 L258.69,98.26 L259.11,98.15 L259.53,98.04 L259.94,97.93 L260.36,97.82 L260.78,97.71 L261.20,97.60 L261.62,97.49 L262.04,97.39 L262.46,97.28 L262.88,97.17 L263.30,97.06 L263.72,96.95 L264.14,96.84 L264.56,96.73 L264.98,96.63 L265.40,96.52 L265.82,96.41 L266.24,96.30 L266.66,96.19 L267.08,96.09 L267.50,95.98 L267.92,95.87 L268.34,95.76 L268.76,95.65 L269.18,95.54 L269.60,95.44 L270.02,95.33 L270.44,95.22 L270.86,95.11 L271.28,95.00 L271.70,94.89 L272.12,94.78 L272.54,94.67 L272.96,94.56 L273.39,94.46 L273.81,94.35 L274.23,94.24 L274.65,94.13 L275.07,94.02 L275.49,93.90 L275.91,93.79 L276.33,93.68 L276.75,93.57 L277.18,93.46 L277.60,93.35 L278.02,93.24 L278.44,93.13 L278.86,93.01 L279.28,92.90 L279.70,92.79 L280.13,92.67 L280.55,92.56 L280.97,92.45 L281.39,92.33 L281.81,92.22 L282.23,92.10 L282.66,91.99 L283.08,91.87 L283.50,91.76 L283.92,91.64 L284.34,91.53 L284.77,91.41 L285.19,91.29 L285.61,91.18 L286.03,91.06 L286.45,90.94 L286.87,90.82 L287.30,90.70 L287.72,90.58 L288.14,90.46 L288.56,90.35 L288.98,90.22 L289.40,90.10 L289.83,89.98 L290.25,89.86 L290.67,89.74 L291.09,89.62 L291.51,89.50 L291.94,89.37 L292.36,89.25 L292.78,89.13 L293.20,89.00 L293.62,88.88 L294.05,88.75 L294.47,88.63 L294.89,88.50 L295.31,88.38 L295.73,88.25 L296.15,88.12 L296.58,87.99 L297.00,87.87 L297.42,87.74 L297.84,87.61 L298.26,87.48 L298.69,87.35 L299.11,87.22 L299.53,87.09 L299.95,86.96 L300.37,86.83 L300.79,86.70 L301.22,86.57 L301.64,86.43 L302.06,86.30 L302.48,86.17 L302.90,86.03 L303.32,85.90 L303.74,85.77 L304.17,85.63 L304.59,85.49 L305.01,85.36 L305.43,85.22 L305.85,85.09 L306.27,84.95 L306.70,84.81 L307.12,84.67 L307.54,84.54 L307.96,84.40 L308.38,84.26 L308.80,84.12 L309.22,83.98 L309.65,83.84 L310.07,83.70 L310.49,83.55 L310.91,83.41 L311.33,83.27 L311.75,83.13 L312.17,82.98 L312.60,82.84 L313.02,82.70 L313.44,82.55 L313.86,82.41 L314.28,82.26 L314.70,82.12 L315.12,81.97 L315.54,81.82 L315.97,81.68 L316.39,81.53 L316.81,81.38 L317.23,81.23 L317.65,81.09 L318.07,80.94 L318.49,80.79 L318.91,80.64 L319.33,80.49 L319.76,80.34 L320.18,80.19 L320.60,80.03 L321.02,79.88 L321.44,79.73 L321.86,79.58 L322.28,79.42 L322.70,79.27 L323.12,79.12 L323.55,78.96 L323.97,78.81 L324.39,78.65 L324.81,78.49 L325.23,78.34 L325.65,78.18 L326.07,78.02 L326.49,77.87 L326.91,77.71 L327.34,77.55 L327.76,77.39 L328.18,77.23 L328.60,77.07 L329.02,76.91 L329.44,76.75 L329.86,76.59 L330.28,76.43 L330.70,76.27 L331.13,76.11 L331.55,75.95 L331.97,75.78 L332.39,75.62 L332.81,75.46 L333.23,75.29 L333.65,75.13 L334.07,74.96 L334.49,74.80 L334.92,74.63 L335.34,74.47 L335.76,74.30 L336.18,74.13 L336.60,73.97 L337.02,73.80 L337.44,73.63 L337.86,73.46 L338.29,73.30 L338.71,73.13 L339.13,72.96 L339.55,72.79 L339.97,72.62 L340.39,72.45 L340.81,72.28 L341.24,72.10 L341.66,71.93 L342.08,71.76 L342.50,71.59 L342.92,71.42 L343.34,71.24 L343.77,71.07 L344.19,70.89 L344.61,70.72 L345.03,70.55 L345.45,70.37 L345.87,70.20 L346.30,70.02 L346.72,69.84 L347.14,69.67 L347.56,69.49 L347.98,69.31 L348.41,69.14 L348.83,68.96 L349.25,68.78 L349.67,68.60 L350.09,68.42 L350.52,68.24 L350.94,68.06 L351.36,67.88 L351.78,67.70 L352.21,67.52 L352.63,67.34 L353.05,67.16 L353.47,66.98 L353.89,66.80 L354.32,66.62 L354.74,66.43 L355.16,66.25 L355.59,66.07 L356.01,65.88 L356.43,65.70 L356.85,65.52 L357.28,65.33 L357.70,65.15 L358.12,64.96 L358.55,64.78 L358.97,64.59 L359.39,64.41 L359.82,64.22 L360.24,64.03 L360.67,63.85 L361.09,63.66 L361.51,63.47 L361.94,63.28 L362.36,63.10 L362.78,62.91 L363.21,62.72 L363.63,62.53 L364.06,62.34 L364.48,62.15 L364.91,61.96 L365.33,61.77 L365.75,61.58 L366.18,61.39 L366.60,61.20 L367.03,61.01 L367.45,60.82 L367.88,60.63 L368.30,60.44 L368.73,60.24 L369.16,60.05 L369.58,59.86 L370.01,59.67 L370.43,59.47 L370.86,59.28 L371.28,59.09 L371.71,58.89 L372.14,58.70 L372.56,58.50 L372.99,58.31 L373.42,58.12 L373.84,57.92 L374.27,57.73 L374.70,57.53 L375.12,57.33 L375.55,57.14 L375.98,56.94 L376.41,56.75 L376.83,56.55 L377.26,56.35 L377.69,56.16 L378.12,55.96 L378.55,55.76 L378.98,55.57 L379.40,55.37 L379.83,55.17 L380.26,54.97 L380.69,54.77 L381.12,54.58 L381.55,54.38 L381.98,54.18 L382.41,53.98 L382.84,53.78 L383.27,53.58 L383.70,53.38 L384.13,53.18 L384.56,52.98 L384.99,52.78 L385.42,52.58 L385.85,52.38 L386.29,52.18 L386.72,51.98 L387.15,51.78 L387.58,51.58 L388.01,51.38 L388.45,51.18 L388.88,50.98 L389.31,50.78 L389.74,50.58 L390.18,50.38 L390.61,50.17 L391.04,49.97 L391.48,49.77 L391.91,49.57 L392.35,49.37 L392.78,49.16 L393.22,48.96 L393.65,48.76 L394.09,48.56 L394.52,48.35 L394.96,48.15 L395.40,47.95 L395.83,47.75 L396.26,47.54 L396.69,47.31 L397.11,47.09 L397.55,46.86 L397.99,46.62 L398.41,46.39 L398.83,46.17 L399.26,45.94 L399.68,45.71 L400.10,45.47 L400.53,45.24 L400.95,45.01 L401.38,44.78 L401.80,44.55 L402.22,44.32 L402.65,44.08 L403.07,43.85 L403.49,43.62 L403.92,43.38 L404.34,43.15 L404.76,42.91 L405.19,42.68" stroke="#FF8000" stroke-width="4.0" stroke-dasharray="11.3 10.9" stroke-dashoffset="15.33"/>
</g>
<rect x="62.5" y="7.0" width="333.30" height="353.50" fill="none" stroke="#000" stroke-width="1.5"/>
<path d="M62.50,360.5v-3.5M62.50,7.0v3.5M81.02,360.5v-3.5M81.02,7.0v3.5M99.53,360.5v-7M99.53,7.0v7M118.05,360.5v-3.5M118.05,7.0v3.5M136.57,360.5v-3.5M136.57,7.0v3.5M155.08,360.5v-3.5M155.08,7.0v3.5M173.60,360.5v-7M173.60,7.0v7M192.12,360.5v-3.5M192.12,7.0v3.5M210.63,360.5v-3.5M210.63,7.0v3.5M229.15,360.5v-3.5M229.15,7.0v3.5M247.67,360.5v-7M247.67,7.0v7M266.18,360.5v-3.5M266.18,7.0v3.5M284.70,360.5v-3.5M284.70,7.0v3.5M303.22,360.5v-3.5M303.22,7.0v3.5M321.73,360.5v-7M321.73,7.0v7M340.25,360.5v-3.5M340.25,7.0v3.5M358.77,360.5v-3.5M358.77,7.0v3.5M377.28,360.5v-3.5M377.28,7.0v3.5M395.80,360.5v-7M395.80,7.0v7M62.5,7.00h7M395.8,7.00h-7M62.5,14.07h3.5M395.8,14.07h-3.5M62.5,21.14h3.5M395.8,21.14h-3.5M62.5,28.21h3.5M395.8,28.21h-3.5M62.5,35.28h3.5M395.8,35.28h-3.5M62.5,42.35h3.5M395.8,42.35h-3.5M62.5,49.42h3.5M395.8,49.42h-3.5M62.5,56.49h3.5M395.8,56.49h-3.5M62.5,63.56h3.5M395.8,63.56h-3.5M62.5,70.63h3.5M395.8,70.63h-3.5M62.5,77.70h7M395.8,77.70h-7M62.5,84.77h3.5M395.8,84.77h-3.5M62.5,91.84h3.5M395.8,91.84h-3.5M62.5,98.91h3.5M395.8,98.91h-3.5M62.5,105.98h3.5M395.8,105.98h-3.5M62.5,113.05h3.5M395.8,113.05h-3.5M62.5,120.12h3.5M395.8,120.12h-3.5M62.5,127.19h3.5M395.8,127.19h-3.5M62.5,134.26h3.5M395.8,134.26h-3.5M62.5,141.33h3.5M395.8,141.33h-3.5M62.5,148.40h7M395.8,148.40h-7M62.5,155.47h3.5M395.8,155.47h-3.5M62.5,162.54h3.5M395.8,162.54h-3.5M62.5,169.61h3.5M395.8,169.61h-3.5M62.5,176.68h3.5M395.8,176.68h-3.5M62.5,183.75h3.5M395.8,183.75h-3.5M62.5,190.82h3.5M395.8,190.82h-3.5M62.5,197.89h3.5M395.8,197.89h-3.5M62.5,204.96h3.5M395.8,204.96h-3.5M62.5,212.03h3.5M395.8,212.03h-3.5M62.5,219.10h7M395.8,219.10h-7M62.5,226.17h3.5M395.8,226.17h-3.5M62.5,233.24h3.5M395.8,233.24h-3.5M62.5,240.31h3.5M395.8,240.31h-3.5M62.5,247.38h3.5M395.8,247.38h-3.5M62.5,254.45h3.5M395.8,254.45h-3.5M62.5,261.52h3.5M395.8,261.52h-3.5M62.5,268.59h3.5M395.8,268.59h-3.5M62.5,275.66h3.5M395.8,275.66h-3.5M62.5,282.73h3.5M395.8,282.73h-3.5M62.5,289.80h7M395.8,289.80h-7M62.5,296.87h3.5M395.8,296.87h-3.5M62.5,303.94h3.5M395.8,303.94h-3.5M62.5,311.01h3.5M395.8,311.01h-3.5M62.5,318.08h3.5M395.8,318.08h-3.5M62.5,325.15h3.5M395.8,325.15h-3.5M62.5,332.22h3.5M395.8,332.22h-3.5M62.5,339.29h3.5M395.8,339.29h-3.5M62.5,346.36h3.5M395.8,346.36h-3.5M62.5,353.43h3.5M395.8,353.43h-3.5M62.5,360.50h7M395.8,360.50h-7" stroke="#000" stroke-width="1.4" fill="none"/>
<text transform="translate(99.8,384.7) scale(1.05,1)" text-anchor="middle" font-size="18.8" letter-spacing="0.7"><tspan class="mn">−</tspan>24</text>
<text transform="translate(173.9,384.7) scale(1.05,1)" text-anchor="middle" font-size="18.8" letter-spacing="0.7"><tspan class="mn">−</tspan>22</text>
<text transform="translate(248.0,384.7) scale(1.05,1)" text-anchor="middle" font-size="18.8" letter-spacing="0.7"><tspan class="mn">−</tspan>20</text>
<text transform="translate(322.0,384.7) scale(1.05,1)" text-anchor="middle" font-size="18.8" letter-spacing="0.7"><tspan class="mn">−</tspan>18</text>
<text transform="translate(396.1,384.7) scale(1.05,1)" text-anchor="middle" font-size="18.8" letter-spacing="0.7"><tspan class="mn">−</tspan>16</text>
<text transform="translate(57.6,19) scale(1.05,1)" text-anchor="end" font-size="18.8" letter-spacing="0.7"><tspan class="mn">−</tspan>1</text>
<text transform="translate(57.6,84.3) scale(1.05,1)" text-anchor="end" font-size="18.8" letter-spacing="0.7"><tspan class="mn">−</tspan>2</text>
<text transform="translate(57.6,155.0) scale(1.05,1)" text-anchor="end" font-size="18.8" letter-spacing="0.7"><tspan class="mn">−</tspan>3</text>
<text transform="translate(57.6,225.7) scale(1.05,1)" text-anchor="end" font-size="18.8" letter-spacing="0.7"><tspan class="mn">−</tspan>4</text>
<text transform="translate(57.6,296.4) scale(1.05,1)" text-anchor="end" font-size="18.8" letter-spacing="0.7"><tspan class="mn">−</tspan>5</text>
<text transform="translate(57.6,360.2) scale(1.05,1)" text-anchor="end" font-size="18.8" letter-spacing="0.7"><tspan class="mn">−</tspan>6</text>
<text transform="translate(173.2,404.8) scale(0.84,1)" text-anchor="start" font-size="19.6" letter-spacing="1.2">M(r<tspan dy="-8.4" dx="-1" font-size="11.5" stroke-width="0.8">*</tspan><tspan dy="8.4" dx="-0.8">)</tspan></text>
<text transform="translate(232.3,404.8) scale(1.0,1)" text-anchor="start" font-size="19.6" letter-spacing="1.1">(mag)</text>
<text transform="translate(20.0,254.8) rotate(-90) scale(0.9,1)" font-size="19.6" letter-spacing="1"><tspan class="it">ϕ</tspan>[M(r<tspan dy="-8.4" dx="-1" font-size="11.5" stroke-width="0.8">*</tspan><tspan dy="8.4" dx="-0.8">)]</tspan></text>
<text transform="translate(20.0,177.8) rotate(-90) scale(0.9,1)" font-size="19.6" letter-spacing="1">(Mpc<tspan dy="-7.5" font-size="12.5"><tspan class="mn">−</tspan>3</tspan><tspan dy="7.5">)</tspan></text>
<path d="M83,23.7H125" stroke="#AA2A50" stroke-width="1.75" stroke-dasharray="22.4 10.8" fill="none"/>
<text transform="translate(129.4,27.6) scale(1.0,1)" text-anchor="start" font-size="19.6" letter-spacing="1.45">E<tspan class="mn">−</tspan>S0a</text>
<path d="M83,44.4H125" stroke="#FFA500" stroke-width="1.75" stroke-dasharray="17 5.2 2.9 5.6 2.9 5.5 2.9 5.5" fill="none"/>
<text transform="translate(129.4,48.3) scale(1.0,1)" text-anchor="start" font-size="19.6" letter-spacing="1.9">Sa<tspan class="mn">−</tspan>Sab</text>
<path d="M83,65H125" stroke="#009900" stroke-width="1.75" stroke-dasharray="11.2 11" fill="none"/>
<text transform="translate(129.4,68.9) scale(1.0,1)" text-anchor="start" font-size="19.6" letter-spacing="1.7">Sb<tspan class="mn">−</tspan>Sbc</text>
<path d="M83,86H125" stroke="#6666FF" stroke-width="1.75" stroke-dasharray="11.2 5.5 3.2 5.1 11.6 4.8 3 5" fill="none"/>
<text transform="translate(129.4,89.9) scale(1.0,1)" text-anchor="start" font-size="19.6" letter-spacing="1.9">Sc<tspan class="mn">−</tspan>Scd</text>
<path d="M83,106.8H125" stroke="#990099" stroke-width="2.1" stroke-dasharray="2.2 5.7" fill="none"/>
<text transform="translate(129.4,110.7) scale(1.0,1)" text-anchor="start" font-size="19.6" letter-spacing="1.4">Sd<tspan class="mn">−</tspan>Irr</text>
<path d="M186.9,289.6H229.2" stroke="#000" stroke-width="1.9" fill="none"/>
<path d="M187.1,310.4H229" stroke="#FF8000" stroke-width="3.9" stroke-dasharray="11.4 10.8" fill="none"/>
<text transform="translate(233.2,294.1) scale(1.0,1)" text-anchor="start" font-size="19.6" letter-spacing="1.6">Total</text>
<text transform="translate(293,294.1) scale(1.0,1)" text-anchor="start" font-size="19.6" letter-spacing="1.8"><tspan class="it">ϕ</tspan>(r<tspan dy="-8.4" dx="-1" font-size="11.5" stroke-width="0.8">*</tspan><tspan dy="8.4" dx="-0.8">,new)</tspan></text>
<text transform="translate(233.2,315.2) scale(1.0,1)" text-anchor="start" font-size="19.6" letter-spacing="1.6">Total</text>
<text transform="translate(293,315.2) scale(1.0,1)" text-anchor="start" font-size="19.6" letter-spacing="1.5"><tspan class="it">ϕ</tspan>(r<tspan dy="-8.4" dx="-1" font-size="11.5" stroke-width="0.8">*</tspan><tspan dy="8.4" dx="-0.8">,N03)</tspan></text>
</svg></body></html>
